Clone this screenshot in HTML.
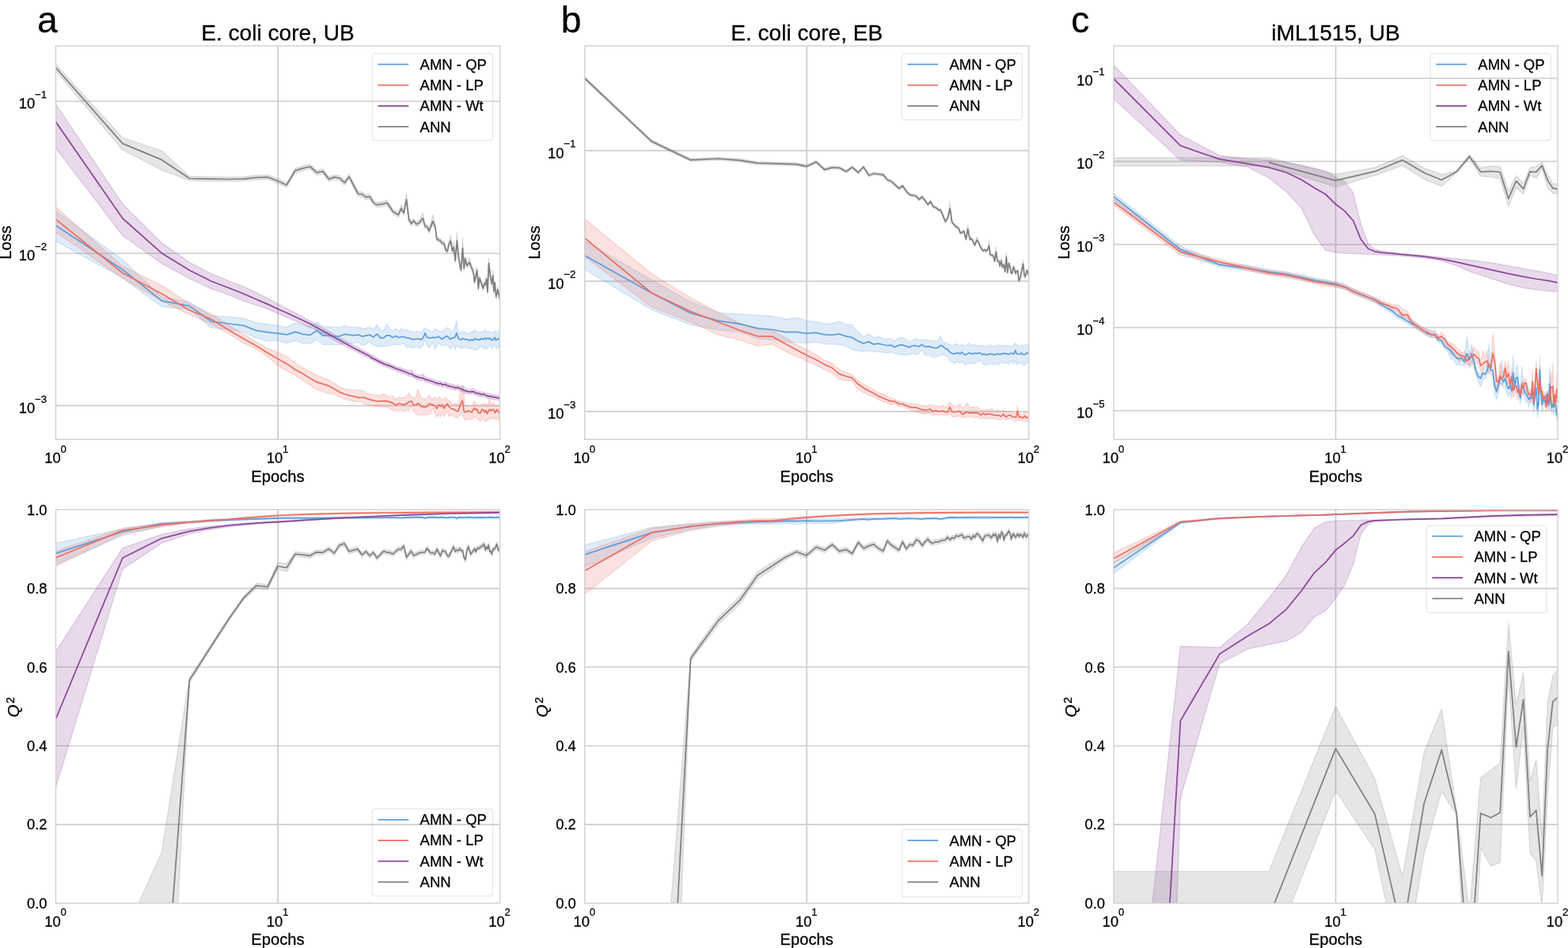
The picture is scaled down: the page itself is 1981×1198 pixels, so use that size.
<!DOCTYPE html><html><head><meta charset="utf-8"><title>Figure</title><style>html,body{margin:0;padding:0;background:#fff}svg{display:block}text{font-family:"Liberation Sans",Arial,Helvetica,sans-serif;fill:#000;stroke:#000;stroke-width:0.26px}</style></head><body>
<svg width="1981" height="1198" viewBox="0 0 1981 1198">
<rect width="1981" height="1198" fill="#ffffff"/>
<clipPath id="c00"><rect x="70.5" y="58.0" width="561.0" height="497.29999999999995"/></clipPath>
<g stroke="#cccccc" stroke-width="1.67" fill="none">
<line x1="351.00" y1="58.0" x2="351.00" y2="555.3"/>
<line x1="70.5" y1="128.00" x2="631.5" y2="128.00"/>
<line x1="70.5" y1="320.28" x2="631.5" y2="320.28"/>
<line x1="70.5" y1="512.55" x2="631.5" y2="512.55"/>
</g>
<g clip-path="url(#c00)">
<path d="M70.5,266.6 L154.9,328.1 L204.3,375.4 L239.4,381.6 L266.6,399.1 L288.8,400.2 L307.6,402.2 L323.8,407.8 L338.2,409.7 L351.0,411.4 L362.6,413.5 L373.2,407.8 L383.0,410.4 L392.0,412.8 L400.4,406.9 L408.3,412.8 L415.6,412.8 L422.6,413.6 L429.2,413.9 L435.4,411.4 L441.4,413.2 L447.0,413.2 L452.5,413.2 L457.6,415.0 L460.0,415.0 L467.3,413.5 L471.8,416.4 L476.4,410.2 L480.9,417.7 L484.6,417.7 L488.7,409.1 L492.8,415.9 L496.4,417.7 L500.0,415.0 L503.7,419.1 L506.9,415.0 L510.0,417.3 L513.7,416.8 L521.9,419.8 L528.2,418.7 L532.8,419.6 L536.9,414.1 L540.1,416.4 L546.4,419.6 L549.6,415.5 L556.5,419.6 L564.6,414.1 L567.8,415.5 L570.1,419.1 L572.8,419.1 L576.9,405.5 L579.2,419.6 L582.4,420.5 L584.7,418.7 L587.4,419.6 L592.8,421.4 L596.5,418.2 L597.9,420.5 L599.7,415.9 L601.9,419.6 L605.6,420.0 L610.1,419.6 L612.9,416.4 L614.7,419.6 L618.8,419.1 L621.5,421.4 L623.3,420.9 L625.2,417.7 L626.5,421.4 L629.2,418.2 L630.9,419.1 L630.9,438.2 L627.0,440.9 L625.2,434.1 L622.0,440.0 L618.8,435.9 L614.2,441.9 L612.0,438.2 L610.1,440.5 L607.0,436.9 L603.8,441.9 L596.5,441.4 L587.4,438.2 L586.0,439.6 L584.7,438.2 L582.4,440.9 L579.2,438.2 L576.9,436.4 L575.1,441.9 L571.9,434.6 L569.2,441.4 L564.6,435.5 L558.7,437.3 L557.4,436.9 L554.2,433.7 L549.6,441.4 L546.4,432.8 L542.3,439.6 L539.2,435.9 L536.9,428.2 L534.6,436.4 L531.0,440.5 L525.5,437.8 L521.9,440.0 L516.4,437.8 L513.7,439.6 L510.0,433.2 L506.9,435.5 L496.4,435.5 L489.1,437.3 L480.9,438.2 L471.8,436.4 L467.3,431.8 L460.0,435.9 L457.6,436.5 L452.5,432.6 L447.0,433.4 L441.4,433.7 L435.4,433.7 L429.2,435.5 L422.6,435.8 L415.6,435.5 L408.3,435.5 L400.4,429.5 L392.0,434.0 L383.0,434.0 L373.2,430.2 L362.6,433.7 L351.0,430.2 L338.2,430.9 L323.8,427.3 L307.6,419.6 L288.8,416.5 L266.6,413.9 L239.4,391.0 L204.3,387.4 L154.9,351.4 L70.5,304.7Z" fill="#5d9fdc" fill-opacity="0.2" stroke="#5d9fdc" stroke-opacity="0.2" stroke-width="1.5" stroke-linejoin="round"/>
<path d="M70.5,261.6 L154.9,336.5 L204.3,360.6 L239.4,383.9 L266.6,396.5 L288.8,411.0 L307.6,422.0 L323.8,432.0 L338.2,440.5 L351.0,445.5 L362.6,450.5 L373.2,459.2 L383.0,465.0 L392.0,470.0 L400.4,474.0 L408.3,477.5 L415.6,480.5 L422.6,484.6 L429.2,489.0 L435.4,491.7 L447.0,493.0 L457.6,493.5 L460.0,494.6 L467.3,498.2 L473.6,498.7 L480.0,500.0 L484.6,497.3 L491.8,501.4 L495.9,500.0 L500.0,504.6 L503.7,502.3 L507.3,502.8 L511.9,501.8 L514.6,499.6 L516.6,496.4 L520.5,501.8 L524.6,503.2 L526.9,497.3 L528.4,492.3 L531.4,502.3 L536.9,505.0 L539.6,503.2 L542.3,499.1 L546.4,505.5 L549.2,501.4 L551.4,505.5 L554.2,501.4 L556.5,503.2 L560.1,505.9 L562.8,501.8 L565.6,505.5 L568.3,506.4 L571.5,510.0 L574.6,510.0 L579.2,510.9 L581.9,495.5 L584.2,487.3 L586.0,495.5 L587.4,512.8 L591.0,512.3 L596.5,513.7 L599.2,506.4 L601.0,511.9 L602.9,510.5 L605.6,514.6 L609.2,510.0 L611.0,511.9 L612.9,509.1 L615.6,514.6 L618.3,503.2 L620.1,512.8 L621.5,509.1 L622.9,511.9 L623.8,508.2 L625.6,513.7 L629.2,511.9 L630.9,512.8 L630.9,531.9 L628.3,527.3 L627.0,531.0 L625.6,527.3 L623.8,530.1 L621.1,526.9 L618.8,531.0 L617.4,528.2 L614.7,532.8 L611.0,531.0 L609.2,525.5 L607.4,532.8 L604.2,530.1 L600.1,526.4 L596.5,530.1 L591.9,529.1 L587.8,531.0 L586.0,528.2 L583.7,520.0 L581.0,524.6 L577.4,528.2 L573.7,527.3 L570.1,523.7 L567.4,526.9 L565.4,519.6 L563.7,521.9 L561.0,526.4 L558.7,519.1 L556.5,527.3 L554.2,523.7 L551.4,527.3 L546.9,515.5 L544.6,522.3 L540.1,524.6 L535.5,524.1 L528.2,524.6 L522.8,520.0 L519.1,513.7 L516.9,519.6 L513.7,519.1 L510.0,520.8 L507.3,518.2 L503.7,519.6 L496.4,518.7 L489.1,514.6 L478.2,514.1 L469.1,512.8 L460.0,510.5 L457.6,508.0 L447.0,507.0 L435.4,504.4 L429.2,502.0 L422.6,498.7 L415.6,497.0 L408.3,495.0 L400.4,492.4 L392.0,487.0 L383.0,481.0 L373.2,474.4 L362.6,469.0 L351.0,462.0 L338.2,451.0 L323.8,441.0 L307.6,433.5 L288.8,421.7 L266.6,409.5 L239.4,397.5 L204.3,380.4 L154.9,351.4 L70.5,293.4Z" fill="#ec7063" fill-opacity="0.2" stroke="#ec7063" stroke-opacity="0.2" stroke-width="1.5" stroke-linejoin="round"/>
<path d="M70.5,131.5 L154.9,257.8 L204.3,306.9 L239.4,331.6 L266.6,345.7 L288.8,354.9 L307.6,362.0 L323.8,369.8 L338.2,376.8 L351.0,383.9 L373.2,395.5 L400.4,410.3 L435.4,430.2 L467.4,447.3 L478.2,453.4 L485.5,457.1 L491.8,459.1 L500.9,463.0 L507.3,465.2 L513.7,467.5 L517.3,469.5 L519.6,467.3 L522.8,471.6 L527.3,473.4 L531.0,474.5 L534.2,472.5 L537.3,476.6 L541.9,477.7 L546.4,479.3 L550.1,480.7 L554.6,481.8 L556.9,481.6 L559.2,483.4 L562.8,482.7 L564.6,484.2 L569.2,485.3 L572.8,486.0 L575.1,487.3 L578.3,486.6 L581.9,488.4 L585.1,486.9 L588.3,491.2 L592.8,492.1 L598.3,490.9 L601.9,493.9 L605.6,494.4 L608.8,495.7 L611.0,495.1 L614.7,497.1 L619.2,497.8 L623.8,498.9 L627.4,499.4 L630.9,500.3 L630.9,506.3 L627.4,505.4 L623.8,504.9 L619.2,503.8 L614.7,503.1 L611.0,501.1 L608.8,501.7 L605.6,500.4 L601.9,499.9 L598.3,497.9 L592.8,498.1 L588.3,497.2 L585.1,495.4 L581.9,494.4 L578.3,492.6 L575.1,493.3 L572.8,492.0 L569.2,491.3 L564.6,490.2 L562.8,488.7 L559.2,489.4 L556.9,487.6 L554.6,487.8 L550.1,486.7 L546.4,485.3 L541.9,483.7 L537.3,482.6 L534.2,480.5 L531.0,480.5 L527.3,479.4 L522.8,477.6 L519.6,475.3 L517.3,475.5 L513.7,473.5 L507.3,471.2 L500.9,469.0 L491.8,465.1 L485.5,463.1 L478.2,459.4 L467.4,453.4 L435.4,436.8 L400.4,417.5 L373.2,405.5 L351.0,396.2 L338.2,390.5 L323.8,385.6 L307.6,380.4 L288.8,372.6 L266.6,364.8 L239.4,352.1 L204.3,333.0 L154.9,297.7 L70.5,187.3Z" fill="#8b4799" fill-opacity="0.2" stroke="#8b4799" stroke-opacity="0.2" stroke-width="1.5" stroke-linejoin="round"/>
<path d="M70.5,81.3 L154.9,173.9 L204.3,190.4 L239.4,222.7 L266.6,223.5 L288.8,223.8 L307.6,223.5 L323.8,221.5 L338.2,221.0 L350.9,225.7 L362.1,230.7 L372.9,212.7 L382.8,209.7 L391.7,207.5 L400.2,215.2 L408.1,213.6 L415.5,223.4 L422.3,220.9 L428.7,221.8 L435.3,227.9 L441.0,220.2 L452.4,242.0 L457.4,242.5 L462.4,246.1 L467.1,245.4 L471.9,253.1 L476.0,255.9 L482.9,254.8 L488.8,253.4 L492.0,257.5 L496.5,264.6 L503.3,268.4 L506.9,258.4 L510.1,266.1 L513.5,243.5 L516.6,274.5 L519.6,279.4 L522.5,276.0 L526.1,280.2 L529.1,279.2 L534.2,269.1 L536.9,282.8 L539.7,283.6 L542.0,288.9 L546.9,271.2 L549.8,283.9 L551.8,299.0 L556.3,301.3 L558.5,303.8 L561.0,304.9 L563.0,312.4 L565.2,314.4 L567.2,305.5 L569.4,297.8 L571.4,314.1 L573.2,305.4 L575.2,326.4 L577.3,293.5 L579.2,320.3 L580.9,331.2 L582.5,338.5 L584.5,300.5 L586.2,336.2 L587.8,323.7 L589.9,332.7 L593.3,325.6 L595.6,334.8 L598.0,340.5 L599.5,353.4 L602.7,337.5 L604.4,361.4 L605.8,348.3 L607.6,353.2 L610.3,361.4 L611.7,355.6 L613.2,356.9 L614.6,349.7 L616.0,365.9 L617.5,325.7 L619.3,344.6 L621.3,355.6 L622.8,341.4 L624.0,365.0 L625.2,354.4 L626.7,372.0 L628.9,362.6 L630.8,372.0 L631.5,374.4 L631.5,380.4 L630.8,378.0 L628.9,368.6 L626.7,378.0 L625.2,360.4 L624.0,371.0 L622.8,351.4 L621.3,361.6 L619.3,350.6 L617.5,335.7 L616.0,371.9 L614.6,355.7 L613.2,362.9 L611.7,361.6 L610.3,367.4 L607.6,359.2 L605.8,354.3 L604.4,367.4 L602.7,344.5 L599.5,359.4 L598.0,346.5 L595.6,340.8 L593.3,334.6 L589.9,338.7 L587.8,329.7 L586.2,342.2 L584.5,316.5 L582.5,344.5 L580.9,337.2 L579.2,326.3 L577.3,307.0 L575.2,332.4 L573.2,315.4 L571.4,320.1 L569.4,307.3 L567.2,311.5 L565.2,320.4 L563.0,318.4 L561.0,310.9 L558.5,309.8 L556.3,307.3 L551.8,305.0 L549.8,289.9 L546.9,282.7 L542.0,294.9 L539.7,289.6 L536.9,288.8 L534.2,278.6 L529.1,285.2 L526.1,286.2 L522.5,282.0 L519.6,285.4 L516.6,280.5 L513.5,255.0 L510.1,272.1 L506.9,266.4 L503.3,274.4 L496.5,270.6 L492.0,263.5 L488.8,259.4 L482.9,260.8 L476.0,261.9 L471.9,259.1 L467.1,251.4 L462.4,252.1 L457.4,248.5 L452.4,248.0 L441.0,226.2 L435.3,233.9 L428.7,227.8 L422.3,226.9 L415.5,229.4 L408.1,219.6 L400.2,221.2 L391.7,213.5 L382.8,215.7 L372.9,218.7 L362.1,236.7 L350.9,231.7 L338.2,226.5 L323.8,227.0 L307.6,228.8 L288.8,229.0 L266.6,228.8 L239.4,228.0 L204.3,214.9 L154.9,189.4 L70.5,89.8Z" fill="#808080" fill-opacity="0.2" stroke="#808080" stroke-opacity="0.2" stroke-width="1.5" stroke-linejoin="round"/>
<path d="M70.5,285.0 L154.9,340.8 L204.3,380.1 L239.4,386.7 L266.6,406.1 L288.8,409.0 L307.6,411.4 L323.8,417.7 L338.2,419.9 L351.0,421.3 L362.6,422.8 L373.2,419.3 L383.0,422.4 L392.0,423.4 L400.4,417.7 L408.3,424.2 L415.6,424.1 L422.6,424.9 L429.2,424.8 L435.4,422.4 L441.4,423.1 L447.0,423.8 L452.5,422.8 L457.6,425.2 L460.0,424.6 L467.3,423.2 L471.8,425.9 L476.4,422.1 L480.9,427.1 L484.6,427.1 L488.7,423.8 L492.3,423.8 L496.4,426.6 L500.0,424.6 L503.7,426.8 L507.3,425.5 L510.0,425.5 L513.7,426.8 L516.4,427.1 L521.9,429.1 L527.3,428.0 L531.9,429.1 L534.6,427.3 L536.9,420.9 L539.2,425.9 L541.9,427.3 L547.4,426.4 L550.1,426.8 L554.2,425.0 L556.5,427.3 L558.7,428.4 L564.6,424.6 L569.2,428.9 L571.5,426.8 L574.6,426.4 L576.9,420.9 L579.2,427.8 L582.4,429.6 L584.7,427.8 L587.4,428.7 L591.0,429.3 L593.3,430.5 L595.1,429.1 L597.9,430.2 L599.7,427.8 L601.9,429.3 L604.2,428.9 L606.0,429.6 L607.9,427.8 L610.1,428.9 L612.9,427.1 L614.2,428.7 L616.1,427.3 L617.4,428.4 L618.8,427.1 L621.5,430.2 L623.3,428.9 L625.2,426.4 L626.5,430.2 L628.8,428.2 L630.9,428.7" fill="none" stroke="#5d9fdc" stroke-width="1.75" stroke-linejoin="round" stroke-linecap="butt"/>
<path d="M70.5,277.2 L154.9,345.0 L204.3,371.2 L239.4,392.0 L266.6,403.3 L288.8,417.0 L307.6,428.1 L323.8,437.0 L338.2,446.0 L351.0,453.5 L362.6,459.9 L373.2,467.2 L383.0,472.6 L392.0,478.2 L400.4,482.9 L408.3,485.3 L415.6,487.8 L422.6,491.7 L429.2,495.6 L435.4,498.0 L441.4,499.9 L447.0,500.8 L452.5,502.3 L457.6,502.3 L460.0,502.3 L465.5,504.4 L470.9,505.9 L476.4,507.1 L481.8,506.9 L488.2,506.7 L492.8,508.2 L496.4,509.3 L500.0,512.0 L503.7,510.0 L507.3,510.8 L511.0,511.4 L514.6,509.6 L517.3,507.5 L519.6,506.9 L522.8,512.0 L525.5,511.7 L528.4,509.6 L531.9,513.5 L536.9,514.6 L539.6,513.5 L542.3,510.0 L546.4,511.4 L549.6,512.8 L551.9,516.4 L554.2,511.4 L556.5,513.7 L558.7,511.4 L561.0,516.0 L563.3,511.9 L565.4,510.5 L567.8,514.6 L570.1,516.4 L573.3,517.1 L576.5,519.1 L578.7,519.9 L581.5,511.9 L584.2,506.2 L586.0,519.1 L587.8,521.0 L591.9,519.1 L596.0,521.0 L599.2,515.5 L601.0,518.2 L602.4,516.9 L604.7,521.9 L607.0,521.9 L608.8,517.3 L610.6,517.8 L612.4,521.0 L613.8,518.7 L615.6,522.8 L617.9,517.8 L619.2,517.3 L620.6,519.6 L622.4,517.8 L623.8,517.3 L625.6,521.9 L627.9,517.3 L629.2,519.6 L630.9,521.9" fill="none" stroke="#ec7063" stroke-width="1.75" stroke-linejoin="round" stroke-linecap="butt"/>
<path d="M70.5,154.1 L154.9,276.0 L204.3,319.9 L239.4,341.5 L266.6,355.2 L288.8,363.8 L307.6,371.2 L323.8,378.3 L338.2,384.4 L351.0,390.5 L362.6,395.5 L373.2,400.5 L383.0,405.0 L392.0,409.3 L400.4,413.9 L408.3,418.6 L415.6,422.4 L422.6,426.2 L429.2,429.8 L435.4,433.4 L447.0,439.8 L457.6,445.3 L467.4,450.2 L469.1,451.9 L478.2,456.4 L485.5,460.1 L491.8,462.1 L500.9,466.0 L507.3,468.2 L513.7,470.5 L517.3,472.5 L519.6,472.3 L522.8,474.6 L527.3,476.4 L531.0,477.5 L534.2,477.5 L537.3,479.6 L541.9,480.7 L546.4,482.3 L550.1,483.7 L554.6,484.8 L556.9,484.6 L559.2,486.4 L562.8,485.7 L564.6,487.2 L569.2,488.3 L572.8,489.0 L575.1,490.3 L578.3,489.6 L581.9,491.4 L585.1,492.4 L588.3,494.2 L592.8,495.1 L598.3,494.9 L601.9,496.9 L605.6,497.4 L608.8,498.7 L611.0,498.1 L614.7,500.1 L619.2,500.8 L623.8,501.9 L627.4,502.4 L630.9,503.3" fill="none" stroke="#8b4799" stroke-width="1.75" stroke-linejoin="round" stroke-linecap="butt"/>
<path d="M70.5,85.6 L154.9,181.4 L204.3,201.9 L239.4,225.5 L266.6,226.2 L288.8,226.5 L307.6,226.2 L323.8,224.4 L338.2,223.8 L350.9,228.7 L362.1,233.7 L372.9,215.7 L382.8,212.7 L391.7,210.5 L400.2,218.2 L408.1,216.6 L415.5,226.4 L422.3,223.9 L428.7,224.8 L435.3,230.9 L441.0,223.2 L452.4,245.0 L457.4,245.5 L462.4,249.1 L467.1,248.4 L471.9,256.1 L476.0,258.9 L482.9,257.8 L488.8,256.4 L492.0,260.5 L496.5,267.6 L503.3,271.4 L506.9,263.4 L510.1,269.1 L513.5,252.0 L516.6,277.5 L519.6,282.4 L522.5,279.0 L526.1,283.2 L529.1,282.2 L534.2,275.6 L536.9,285.8 L539.7,286.6 L542.0,291.9 L546.9,279.7 L549.8,286.9 L551.8,302.0 L556.3,304.3 L558.5,306.8 L561.0,307.9 L563.0,315.4 L565.2,317.4 L567.2,308.5 L569.4,304.3 L571.4,317.1 L573.2,312.4 L575.2,329.4 L577.3,304.0 L579.2,323.3 L580.9,334.2 L582.5,341.5 L584.5,313.5 L586.2,339.2 L587.8,326.7 L589.9,335.7 L593.3,331.6 L595.6,337.8 L598.0,343.5 L599.5,356.4 L602.7,341.5 L604.4,364.4 L605.8,351.3 L607.6,356.2 L610.3,364.4 L611.7,358.6 L613.2,359.9 L614.6,352.7 L616.0,368.9 L617.5,332.7 L619.3,347.6 L621.3,358.6 L622.8,348.4 L624.0,368.0 L625.2,357.4 L626.7,375.0 L628.9,365.6 L630.8,375.0 L631.5,377.4" fill="none" stroke="#808080" stroke-width="1.75" stroke-linejoin="round" stroke-linecap="butt"/>
</g>
<rect x="70.5" y="58.0" width="561.0" height="497.29999999999995" fill="none" stroke="#d0d0d0" stroke-width="1.4"/>
<text x="56.35" y="585.40" font-size="18.4" text-anchor="start" >10</text>
<text x="76.51" y="572.25" font-size="13.2" text-anchor="start" >0</text>
<text x="336.85" y="585.40" font-size="18.4" text-anchor="start" >10</text>
<text x="357.01" y="572.25" font-size="13.2" text-anchor="start" >1</text>
<text x="617.35" y="585.40" font-size="18.4" text-anchor="start" >10</text>
<text x="637.51" y="572.25" font-size="13.2" text-anchor="start" >2</text>
<text x="351.00" y="608.50" font-size="20.2" text-anchor="middle" >Epochs</text>
<text x="23.79" y="137.20" font-size="18.4" text-anchor="start" >10</text>
<text x="43.95" y="124.05" font-size="13.2" text-anchor="start" >−1</text>
<text x="23.79" y="329.48" font-size="18.4" text-anchor="start" >10</text>
<text x="43.95" y="316.33" font-size="13.2" text-anchor="start" >−2</text>
<text x="23.79" y="521.75" font-size="18.4" text-anchor="start" >10</text>
<text x="43.95" y="508.60" font-size="13.2" text-anchor="start" >−3</text>
<text transform="translate(14.00,306.35) rotate(-90)" font-size="20.2" text-anchor="middle">Loss</text>
<text x="351.00" y="51.40" font-size="28.1" text-anchor="middle" >E. coli core, UB</text>
<rect x="470.5" y="67.5" width="152" height="110" rx="3.3" ry="3.3" fill="none" stroke="#cccccc" stroke-opacity="0.45" stroke-width="1.3"/>
<line x1="477.50" y1="81.40" x2="516.30" y2="81.40" stroke="#5d9fdc" stroke-width="1.8"/>
<text x="530.60" y="87.75" font-size="18.5" text-anchor="start" >AMN - QP</text>
<line x1="477.50" y1="107.65" x2="516.30" y2="107.65" stroke="#ec7063" stroke-width="1.8"/>
<text x="530.60" y="114.00" font-size="18.5" text-anchor="start" >AMN - LP</text>
<line x1="477.50" y1="133.90" x2="516.30" y2="133.90" stroke="#8b4799" stroke-width="1.8"/>
<text x="530.60" y="140.25" font-size="18.5" text-anchor="start" >AMN - Wt</text>
<line x1="477.50" y1="160.15" x2="516.30" y2="160.15" stroke="#808080" stroke-width="1.8"/>
<text x="530.60" y="166.50" font-size="18.5" text-anchor="start" >ANN</text>
<clipPath id="c10"><rect x="738.75" y="58.0" width="561.0" height="497.29999999999995"/></clipPath>
<g stroke="#cccccc" stroke-width="1.67" fill="none">
<line x1="1019.25" y1="58.0" x2="1019.25" y2="555.3"/>
<line x1="738.75" y1="190.40" x2="1299.75" y2="190.40"/>
<line x1="738.75" y1="355.30" x2="1299.75" y2="355.30"/>
<line x1="738.75" y1="520.10" x2="1299.75" y2="520.10"/>
</g>
<g clip-path="url(#c10)">
<path d="M738.8,305.2 L823.2,353.3 L872.6,381.6 L907.6,394.9 L934.8,397.0 L957.0,398.4 L975.8,399.4 L992.1,403.3 L1006.4,401.5 L1019.2,405.4 L1030.9,406.4 L1041.5,408.7 L1051.2,409.0 L1060.2,405.9 L1068.6,410.1 L1076.5,410.4 L1083.9,419.6 L1090.9,425.9 L1097.4,421.7 L1103.7,426.6 L1109.6,425.5 L1115.3,427.8 L1120.7,428.3 L1125.9,428.0 L1130.0,430.9 L1135.5,426.8 L1140.0,426.2 L1144.6,428.7 L1148.8,431.4 L1152.7,430.2 L1156.8,427.0 L1160.9,430.0 L1168.7,429.3 L1177.3,430.5 L1185.1,430.2 L1188.2,424.6 L1191.0,431.8 L1196.9,433.7 L1202.8,436.8 L1207.3,434.4 L1212.3,436.8 L1215.3,435.5 L1220.1,437.1 L1224.4,433.5 L1226.9,436.8 L1231.9,435.3 L1236.0,437.3 L1239.2,435.9 L1245.6,437.8 L1251.0,435.9 L1256.5,438.0 L1261.0,435.8 L1264.7,437.1 L1271.0,436.4 L1275.6,437.1 L1280.1,437.1 L1282.9,433.5 L1284.7,436.8 L1286.5,436.4 L1288.8,437.8 L1291.1,435.5 L1292.9,437.3 L1297.4,434.6 L1299.7,434.4 L1299.7,459.6 L1297.9,457.3 L1295.2,461.0 L1292.9,461.7 L1290.6,458.2 L1288.8,460.0 L1286.1,457.8 L1284.2,461.0 L1282.4,455.5 L1280.6,459.6 L1277.4,456.4 L1274.7,460.0 L1271.0,459.1 L1268.3,459.1 L1266.5,457.3 L1261.5,461.1 L1259.7,458.7 L1256.5,461.0 L1251.0,459.6 L1245.6,461.4 L1241.5,459.9 L1239.6,456.6 L1233.7,457.3 L1231.0,460.0 L1227.8,458.7 L1225.5,459.9 L1223.7,457.8 L1220.1,461.0 L1217.8,461.0 L1215.3,456.4 L1212.8,459.6 L1210.1,456.4 L1205.5,460.0 L1200.1,456.0 L1196.9,450.5 L1190.1,448.2 L1183.7,450.9 L1178.2,451.4 L1173.7,448.2 L1168.7,449.1 L1164.4,442.8 L1160.9,446.4 L1157.3,448.2 L1152.7,446.4 L1148.8,448.2 L1139.1,448.2 L1130.0,446.9 L1125.9,444.7 L1120.7,446.0 L1115.3,445.3 L1109.6,444.6 L1103.7,444.3 L1097.4,443.2 L1090.9,444.3 L1083.9,443.3 L1076.5,441.5 L1068.6,437.2 L1060.2,435.4 L1051.2,435.1 L1041.5,434.4 L1030.9,432.3 L1019.2,433.4 L1006.4,433.0 L992.1,432.3 L975.8,429.5 L957.0,428.1 L934.8,419.6 L907.6,417.0 L872.6,410.5 L823.2,391.4 L738.8,340.6Z" fill="#5d9fdc" fill-opacity="0.2" stroke="#5d9fdc" stroke-opacity="0.2" stroke-width="1.5" stroke-linejoin="round"/>
<path d="M738.8,276.7 L823.2,345.8 L872.6,376.2 L907.6,395.0 L934.8,408.4 L957.0,416.2 L975.8,417.5 L992.1,426.6 L1006.4,435.5 L1019.2,441.9 L1030.9,448.0 L1041.5,454.9 L1051.2,459.0 L1060.2,466.9 L1068.6,470.5 L1076.5,473.3 L1083.9,480.4 L1090.9,485.5 L1097.4,489.2 L1103.7,492.4 L1109.6,496.0 L1115.3,498.2 L1120.7,500.8 L1125.9,503.0 L1130.0,504.1 L1135.5,506.9 L1140.0,507.8 L1145.5,509.6 L1157.3,510.8 L1166.4,512.8 L1171.9,512.8 L1175.0,510.9 L1178.7,513.2 L1181.9,512.6 L1187.3,514.1 L1191.0,512.3 L1196.4,514.6 L1199.9,508.2 L1202.8,510.9 L1205.1,514.1 L1207.3,512.8 L1210.1,513.5 L1212.6,510.2 L1215.5,515.5 L1217.8,515.0 L1221.0,510.0 L1222.8,510.5 L1225.1,514.6 L1230.1,514.3 L1235.6,515.0 L1238.7,517.8 L1242.8,518.2 L1245.1,519.1 L1247.4,516.9 L1249.7,518.0 L1252.4,516.4 L1257.4,519.6 L1261.0,517.3 L1262.8,519.9 L1267.9,518.7 L1271.0,520.5 L1276.5,519.9 L1279.2,521.7 L1283.8,521.9 L1285.6,512.8 L1287.4,523.2 L1290.1,523.7 L1294.7,521.0 L1296.5,522.3 L1299.7,521.9 L1299.7,531.9 L1296.5,532.8 L1292.4,532.3 L1290.1,530.5 L1287.4,531.9 L1285.6,528.2 L1283.8,532.8 L1279.2,531.1 L1273.8,529.0 L1271.0,531.1 L1267.7,528.2 L1264.7,530.5 L1261.5,530.1 L1252.8,528.7 L1245.1,529.1 L1242.4,527.3 L1239.6,529.6 L1235.6,526.9 L1231.0,527.8 L1225.1,526.4 L1221.0,527.1 L1215.5,528.2 L1212.8,525.5 L1210.1,526.6 L1202.8,526.9 L1199.9,522.3 L1196.9,525.5 L1191.0,524.1 L1186.4,525.1 L1181.9,523.7 L1178.7,525.1 L1175.0,521.9 L1168.2,523.2 L1162.8,522.3 L1157.3,519.6 L1151.8,518.7 L1145.5,516.0 L1140.0,513.7 L1135.5,513.7 L1130.0,510.5 L1125.9,511.5 L1120.7,509.5 L1115.3,507.0 L1109.6,505.0 L1103.7,501.6 L1097.4,499.0 L1090.9,496.0 L1083.9,491.7 L1076.5,481.1 L1068.6,480.8 L1060.2,479.6 L1051.2,471.5 L1041.5,466.9 L1030.9,461.5 L1019.2,456.3 L1006.4,450.5 L992.1,444.3 L975.8,435.1 L957.0,437.2 L934.8,429.6 L907.6,423.3 L872.6,407.0 L823.2,387.9 L738.8,324.3Z" fill="#ec7063" fill-opacity="0.2" stroke="#ec7063" stroke-opacity="0.2" stroke-width="1.5" stroke-linejoin="round"/>
<path d="M738.8,97.2 L823.2,176.8 L872.6,200.4 L907.6,198.7 L934.8,200.8 L957.0,204.3 L975.8,204.9 L992.1,205.3 L1006.4,205.8 L1018.9,208.4 L1031.2,202.8 L1041.8,212.6 L1051.2,210.0 L1060.3,210.2 L1069.0,215.0 L1076.7,209.6 L1084.3,216.2 L1091.0,209.1 L1097.8,219.9 L1104.0,217.5 L1109.5,218.2 L1115.8,219.1 L1121.1,225.5 L1126.3,227.5 L1135.8,236.4 L1140.4,233.0 L1144.9,239.9 L1149.3,244.4 L1153.6,245.3 L1157.2,245.7 L1161.3,250.3 L1165.0,246.9 L1170.0,253.4 L1172.3,256.8 L1175.7,252.8 L1178.7,259.1 L1182.1,260.4 L1185.6,263.3 L1188.6,264.0 L1194.3,278.1 L1197.3,273.9 L1200.1,254.5 L1202.8,279.2 L1208.0,284.9 L1211.0,286.4 L1213.3,292.7 L1217.8,290.6 L1220.5,300.5 L1222.8,284.4 L1225.3,300.5 L1227.6,299.9 L1231.5,307.9 L1234.2,298.9 L1236.1,303.9 L1238.3,309.6 L1240.0,312.3 L1241.8,315.2 L1243.9,313.9 L1245.9,315.4 L1247.8,313.5 L1249.6,302.8 L1251.0,320.3 L1253.5,320.5 L1255.1,322.1 L1256.6,328.2 L1258.4,312.2 L1260.0,327.8 L1261.9,328.0 L1263.3,334.4 L1265.0,325.6 L1266.6,336.0 L1268.2,332.7 L1269.9,341.3 L1271.4,318.7 L1272.9,342.6 L1274.6,330.7 L1276.2,335.2 L1277.2,343.0 L1278.9,343.4 L1280.3,335.6 L1281.7,338.5 L1283.1,343.8 L1284.2,340.9 L1286.0,340.7 L1286.8,350.3 L1287.4,353.2 L1288.7,350.3 L1292.6,328.5 L1294.0,345.0 L1295.2,348.1 L1297.5,339.7 L1298.7,343.0 L1299.6,346.6 L1299.6,350.2 L1298.7,346.6 L1297.5,343.3 L1295.2,351.7 L1294.0,348.6 L1292.6,335.3 L1288.7,353.9 L1287.4,356.8 L1286.8,353.9 L1286.0,344.3 L1284.2,344.5 L1283.1,347.4 L1281.7,342.1 L1280.3,339.2 L1278.9,347.0 L1277.2,346.6 L1276.2,338.8 L1274.6,334.3 L1272.9,346.2 L1271.4,326.5 L1269.9,344.9 L1268.2,336.3 L1266.6,339.6 L1265.0,331.4 L1263.3,338.0 L1261.9,331.6 L1260.0,331.4 L1258.4,320.0 L1256.6,331.8 L1255.1,325.7 L1253.5,324.1 L1251.0,323.9 L1249.6,312.6 L1247.8,317.1 L1245.9,319.0 L1243.9,317.5 L1241.8,318.8 L1240.0,315.9 L1238.3,313.2 L1236.1,307.5 L1234.2,305.2 L1231.5,311.5 L1227.6,303.5 L1225.3,304.1 L1222.8,291.2 L1220.5,304.1 L1217.8,294.2 L1213.3,296.3 L1211.0,290.0 L1208.0,288.5 L1202.8,282.8 L1200.1,265.3 L1197.3,277.5 L1194.3,281.7 L1188.6,267.6 L1185.6,266.9 L1182.1,264.0 L1178.7,262.7 L1175.7,256.4 L1172.3,260.4 L1170.0,257.0 L1165.0,250.5 L1161.3,253.9 L1157.2,249.3 L1153.6,248.9 L1149.3,248.0 L1144.9,243.5 L1140.4,236.6 L1135.8,240.0 L1126.3,231.1 L1121.1,229.1 L1115.8,222.7 L1109.5,221.8 L1104.0,221.1 L1097.8,223.5 L1091.0,212.7 L1084.3,219.8 L1076.7,213.2 L1069.0,218.6 L1060.3,213.8 L1051.2,213.6 L1041.8,216.2 L1031.2,206.4 L1018.9,212.0 L1006.4,209.4 L992.1,208.9 L975.8,208.5 L957.0,207.9 L934.8,204.4 L907.6,202.3 L872.6,204.0 L823.2,180.4 L738.8,100.8Z" fill="#808080" fill-opacity="0.2" stroke="#808080" stroke-opacity="0.2" stroke-width="1.5" stroke-linejoin="round"/>
<path d="M738.8,322.9 L823.2,370.2 L872.6,395.7 L907.6,405.3 L934.8,409.4 L957.0,414.9 L975.8,416.5 L992.1,419.6 L1006.4,419.6 L1019.2,421.4 L1030.9,420.3 L1041.5,422.8 L1051.2,423.3 L1060.2,422.0 L1068.6,424.9 L1076.5,426.4 L1083.9,430.9 L1090.9,434.0 L1097.4,431.9 L1103.7,435.1 L1109.6,434.1 L1115.3,435.5 L1120.7,436.5 L1125.9,436.1 L1130.0,438.7 L1135.5,436.4 L1140.0,435.9 L1144.6,437.3 L1148.8,438.9 L1152.7,437.0 L1156.8,436.7 L1160.9,438.2 L1164.4,435.3 L1168.7,438.2 L1172.8,437.8 L1177.3,438.9 L1181.9,440.0 L1185.1,439.3 L1188.2,436.4 L1191.0,437.3 L1194.1,440.5 L1196.9,441.4 L1200.1,445.0 L1202.8,446.9 L1207.3,446.9 L1210.1,445.5 L1212.8,447.3 L1215.3,445.0 L1217.8,447.8 L1220.1,448.2 L1224.4,445.7 L1227.4,447.3 L1231.9,446.4 L1234.6,446.6 L1237.8,445.9 L1241.5,448.2 L1243.3,446.9 L1245.6,448.7 L1251.0,447.1 L1256.5,448.4 L1261.0,446.9 L1263.3,448.2 L1266.5,446.6 L1271.0,446.9 L1274.7,447.8 L1277.9,445.9 L1280.6,447.8 L1282.9,442.6 L1284.2,447.1 L1288.3,447.5 L1290.6,445.9 L1292.4,448.2 L1295.2,447.8 L1297.4,445.7 L1299.7,447.3" fill="none" stroke="#5d9fdc" stroke-width="1.75" stroke-linejoin="round" stroke-linecap="butt"/>
<path d="M738.8,301.0 L823.2,370.2 L872.6,393.6 L907.6,407.0 L934.8,417.5 L957.0,424.9 L975.8,425.2 L992.1,434.4 L1006.4,442.2 L1019.2,449.0 L1030.9,454.5 L1041.5,460.6 L1051.2,464.8 L1060.2,472.6 L1068.6,475.4 L1076.5,477.5 L1083.9,485.3 L1090.9,490.2 L1097.4,493.8 L1103.7,497.0 L1109.6,500.6 L1115.3,502.7 L1120.7,505.1 L1125.9,507.2 L1130.0,507.1 L1135.5,510.3 L1140.0,510.5 L1145.5,512.9 L1151.8,514.8 L1157.3,514.9 L1162.8,517.1 L1168.2,518.2 L1171.9,518.0 L1175.0,516.9 L1178.7,520.0 L1181.9,518.7 L1186.4,520.0 L1191.0,519.1 L1194.1,520.5 L1196.9,521.0 L1199.9,514.6 L1202.8,520.0 L1205.1,521.0 L1210.1,520.2 L1212.8,519.6 L1215.5,523.5 L1217.8,522.8 L1221.0,520.5 L1225.1,521.9 L1230.1,521.7 L1235.6,521.9 L1239.6,524.6 L1242.4,522.3 L1245.1,524.3 L1247.4,522.8 L1252.8,523.7 L1257.4,524.9 L1261.5,524.9 L1264.7,526.2 L1267.7,523.2 L1271.0,527.1 L1273.8,524.9 L1277.0,524.9 L1279.2,526.9 L1283.8,527.1 L1285.6,520.0 L1287.4,527.1 L1290.1,526.9 L1292.4,528.2 L1294.7,525.7 L1296.5,527.8 L1299.7,527.1" fill="none" stroke="#ec7063" stroke-width="1.75" stroke-linejoin="round" stroke-linecap="butt"/>
<path d="M738.8,99.0 L823.2,178.6 L872.6,202.2 L907.6,200.5 L934.8,202.6 L957.0,206.1 L975.8,206.7 L992.1,207.1 L1006.4,207.6 L1018.9,210.2 L1031.2,204.6 L1041.8,214.4 L1051.2,211.8 L1060.3,212.0 L1069.0,216.8 L1076.7,211.4 L1084.3,218.0 L1091.0,210.9 L1097.8,221.7 L1104.0,219.3 L1109.5,220.0 L1115.8,220.9 L1121.1,227.3 L1126.3,229.3 L1135.8,238.2 L1140.4,234.8 L1144.9,241.7 L1149.3,246.2 L1153.6,247.1 L1157.2,247.5 L1161.3,252.1 L1165.0,248.7 L1170.0,255.2 L1172.3,258.6 L1175.7,254.6 L1178.7,260.9 L1182.1,262.2 L1185.6,265.1 L1188.6,265.8 L1194.3,279.9 L1197.3,275.7 L1200.1,263.5 L1202.8,281.0 L1208.0,286.7 L1211.0,288.2 L1213.3,294.5 L1217.8,292.4 L1220.5,302.3 L1222.8,289.4 L1225.3,302.3 L1227.6,301.7 L1231.5,309.7 L1234.2,303.4 L1236.1,305.7 L1238.3,311.4 L1240.0,314.1 L1241.8,317.0 L1243.9,315.7 L1245.9,317.2 L1247.8,315.3 L1249.6,310.8 L1251.0,322.1 L1253.5,322.3 L1255.1,323.9 L1256.6,330.0 L1258.4,318.2 L1260.0,329.6 L1261.9,329.8 L1263.3,336.2 L1265.0,329.6 L1266.6,337.8 L1268.2,334.5 L1269.9,343.1 L1271.4,324.7 L1272.9,344.4 L1274.6,332.5 L1276.2,337.0 L1277.2,344.8 L1278.9,345.2 L1280.3,337.4 L1281.7,340.3 L1283.1,345.6 L1284.2,342.7 L1286.0,342.5 L1286.8,352.1 L1287.4,355.0 L1288.7,352.1 L1292.6,333.5 L1294.0,346.8 L1295.2,349.9 L1297.5,341.5 L1298.7,344.8 L1299.6,348.4" fill="none" stroke="#808080" stroke-width="1.75" stroke-linejoin="round" stroke-linecap="butt"/>
</g>
<rect x="738.75" y="58.0" width="561.0" height="497.29999999999995" fill="none" stroke="#d0d0d0" stroke-width="1.4"/>
<text x="724.60" y="585.40" font-size="18.4" text-anchor="start" >10</text>
<text x="744.76" y="572.25" font-size="13.2" text-anchor="start" >0</text>
<text x="1005.10" y="585.40" font-size="18.4" text-anchor="start" >10</text>
<text x="1025.26" y="572.25" font-size="13.2" text-anchor="start" >1</text>
<text x="1285.60" y="585.40" font-size="18.4" text-anchor="start" >10</text>
<text x="1305.76" y="572.25" font-size="13.2" text-anchor="start" >2</text>
<text x="1019.25" y="608.50" font-size="20.2" text-anchor="middle" >Epochs</text>
<text x="692.04" y="199.60" font-size="18.4" text-anchor="start" >10</text>
<text x="712.20" y="186.45" font-size="13.2" text-anchor="start" >−1</text>
<text x="692.04" y="364.50" font-size="18.4" text-anchor="start" >10</text>
<text x="712.20" y="351.35" font-size="13.2" text-anchor="start" >−2</text>
<text x="692.04" y="529.30" font-size="18.4" text-anchor="start" >10</text>
<text x="712.20" y="516.15" font-size="13.2" text-anchor="start" >−3</text>
<text transform="translate(682.25,306.35) rotate(-90)" font-size="20.2" text-anchor="middle">Loss</text>
<text x="1019.25" y="51.40" font-size="28.1" text-anchor="middle" >E. coli core, EB</text>
<rect x="1139.4" y="67.5" width="152" height="84" rx="3.3" ry="3.3" fill="none" stroke="#cccccc" stroke-opacity="0.45" stroke-width="1.3"/>
<line x1="1146.40" y1="81.40" x2="1185.20" y2="81.40" stroke="#5d9fdc" stroke-width="1.8"/>
<text x="1199.50" y="87.75" font-size="18.5" text-anchor="start" >AMN - QP</text>
<line x1="1146.40" y1="107.65" x2="1185.20" y2="107.65" stroke="#ec7063" stroke-width="1.8"/>
<text x="1199.50" y="114.00" font-size="18.5" text-anchor="start" >AMN - LP</text>
<line x1="1146.40" y1="133.90" x2="1185.20" y2="133.90" stroke="#808080" stroke-width="1.8"/>
<text x="1199.50" y="140.25" font-size="18.5" text-anchor="start" >ANN</text>
<clipPath id="c20"><rect x="1407.0" y="58.0" width="561.0" height="497.29999999999995"/></clipPath>
<g stroke="#cccccc" stroke-width="1.67" fill="none">
<line x1="1687.50" y1="58.0" x2="1687.50" y2="555.3"/>
<line x1="1407.0" y1="99.00" x2="1968.0" y2="99.00"/>
<line x1="1407.0" y1="204.00" x2="1968.0" y2="204.00"/>
<line x1="1407.0" y1="309.00" x2="1968.0" y2="309.00"/>
<line x1="1407.0" y1="414.00" x2="1968.0" y2="414.00"/>
<line x1="1407.0" y1="519.00" x2="1968.0" y2="519.00"/>
</g>
<g clip-path="url(#c20)">
<path d="M1407.0,244.2 L1491.4,311.0 L1540.8,331.6 L1575.9,335.8 L1603.1,340.5 L1625.3,343.6 L1644.1,347.6 L1660.3,351.1 L1674.7,353.5 L1687.5,355.9 L1699.1,359.8 L1709.7,365.1 L1719.5,369.2 L1728.5,372.7 L1736.9,376.2 L1744.8,381.2 L1752.1,385.7 L1759.1,390.0 L1765.7,395.5 L1771.9,398.6 L1777.9,402.3 L1783.5,405.6 L1789.0,408.2 L1794.1,411.7 L1799.1,415.2 L1803.9,416.4 L1808.5,417.9 L1812.9,417.4 L1817.2,425.6 L1821.3,427.0 L1825.3,434.1 L1829.2,436.8 L1832.9,436.1 L1836.6,444.5 L1840.1,445.6 L1843.5,447.6 L1846.9,447.5 L1850.1,451.3 L1853.3,424.8 L1856.4,448.2 L1859.4,435.1 L1862.3,452.9 L1865.2,466.2 L1868.0,471.0 L1870.7,473.2 L1873.4,465.5 L1876.0,468.3 L1878.6,464.5 L1881.1,434.7 L1883.6,461.3 L1886.0,461.7 L1888.3,480.8 L1890.7,488.7 L1892.9,482.7 L1895.2,471.1 L1897.4,455.4 L1899.5,476.6 L1901.6,473.2 L1903.7,480.8 L1905.8,486.2 L1907.8,480.3 L1909.8,488.3 L1911.7,449.0 L1913.6,483.9 L1915.5,463.2 L1917.4,461.2 L1919.2,489.5 L1921.0,495.7 L1922.8,462.8 L1924.6,484.9 L1926.3,490.1 L1928.0,493.0 L1929.7,494.5 L1931.3,498.5 L1933.0,495.3 L1934.6,497.6 L1936.2,486.0 L1937.7,506.7 L1939.3,496.1 L1940.8,483.9 L1942.3,512.4 L1943.8,505.7 L1945.3,450.3 L1946.8,493.5 L1948.2,507.2 L1949.6,499.3 L1951.0,502.3 L1952.4,502.3 L1953.8,494.6 L1955.2,500.5 L1956.5,504.8 L1957.8,463.2 L1959.2,494.6 L1960.5,511.3 L1961.8,506.5 L1963.0,508.1 L1964.3,503.9 L1965.5,505.9 L1966.8,519.3 L1968.0,516.0 L1968.0,528.9 L1966.8,531.1 L1965.5,521.7 L1964.3,520.1 L1963.0,523.8 L1961.8,518.3 L1960.5,522.6 L1959.2,509.9 L1957.8,492.3 L1956.5,517.7 L1955.2,511.0 L1953.8,508.3 L1952.4,514.6 L1951.0,512.9 L1949.6,512.8 L1948.2,522.1 L1946.8,507.0 L1945.3,474.5 L1943.8,520.3 L1942.3,527.3 L1940.8,497.0 L1939.3,508.5 L1937.7,521.7 L1936.2,498.6 L1934.6,509.2 L1933.0,508.1 L1931.3,514.4 L1929.7,505.9 L1928.0,509.1 L1926.3,501.2 L1924.6,499.4 L1922.8,492.9 L1921.0,511.8 L1919.2,503.1 L1917.4,483.8 L1915.5,483.2 L1913.6,495.5 L1911.7,478.9 L1909.8,504.5 L1907.8,494.8 L1905.8,501.6 L1903.7,496.3 L1901.6,489.2 L1899.5,490.2 L1897.4,487.7 L1895.2,484.0 L1892.9,498.7 L1890.7,504.7 L1888.3,497.4 L1886.0,478.2 L1883.6,473.4 L1881.1,470.7 L1878.6,475.3 L1876.0,478.1 L1873.4,479.5 L1870.7,488.7 L1868.0,483.3 L1865.2,475.5 L1862.3,464.8 L1859.4,455.4 L1856.4,465.4 L1853.3,454.2 L1850.1,463.0 L1846.9,461.1 L1843.5,460.4 L1840.1,461.5 L1836.6,454.2 L1832.9,453.7 L1829.2,444.2 L1825.3,441.3 L1821.3,434.2 L1817.2,432.8 L1812.9,426.4 L1808.5,426.4 L1803.9,424.9 L1799.1,422.1 L1794.1,418.5 L1789.0,415.0 L1783.5,412.4 L1777.9,408.9 L1771.9,405.2 L1765.7,402.1 L1759.1,396.4 L1752.1,392.1 L1744.8,387.6 L1736.9,382.4 L1728.5,378.9 L1719.5,375.4 L1709.7,371.3 L1699.1,365.8 L1687.5,361.9 L1674.7,359.5 L1660.3,357.1 L1644.1,353.6 L1625.3,349.6 L1603.1,346.5 L1575.9,341.8 L1540.8,337.6 L1491.4,319.4 L1407.0,252.6Z" fill="#5d9fdc" fill-opacity="0.2" stroke="#5d9fdc" stroke-opacity="0.2" stroke-width="1.5" stroke-linejoin="round"/>
<path d="M1407.0,251.2 L1491.4,314.1 L1540.8,328.1 L1575.9,335.8 L1603.1,341.8 L1625.3,344.7 L1644.1,348.6 L1660.3,352.8 L1674.7,354.9 L1687.5,356.8 L1699.1,359.8 L1709.7,365.1 L1719.5,368.9 L1728.5,372.4 L1736.9,375.7 L1744.8,379.8 L1752.1,382.2 L1759.1,385.0 L1765.7,385.4 L1771.9,390.1 L1777.9,392.7 L1783.5,403.2 L1789.0,407.9 L1794.1,411.7 L1799.1,414.8 L1803.9,416.8 L1808.5,419.4 L1812.9,419.8 L1817.2,423.5 L1821.3,420.0 L1825.3,424.2 L1829.2,431.3 L1832.9,433.6 L1836.6,435.1 L1840.1,439.7 L1843.5,441.9 L1846.9,445.9 L1850.1,444.1 L1853.3,450.3 L1856.4,446.4 L1859.4,444.3 L1862.3,438.2 L1865.2,443.3 L1868.0,443.8 L1870.7,457.4 L1873.4,443.0 L1876.0,452.1 L1878.6,442.9 L1881.1,458.8 L1883.6,458.9 L1886.0,421.4 L1888.3,442.6 L1890.7,474.5 L1892.9,478.5 L1895.2,457.9 L1897.4,471.2 L1899.5,469.6 L1901.6,456.2 L1903.7,470.6 L1905.8,455.9 L1907.8,481.9 L1909.8,464.0 L1911.7,489.0 L1913.6,482.9 L1915.5,482.7 L1917.4,490.3 L1919.2,486.4 L1921.0,493.4 L1922.8,482.2 L1924.6,483.6 L1926.3,478.8 L1928.0,478.9 L1929.7,486.5 L1931.3,491.9 L1933.0,493.0 L1934.6,493.9 L1936.2,468.1 L1937.7,501.8 L1939.3,481.8 L1940.8,456.8 L1942.3,474.2 L1943.8,492.3 L1945.3,462.5 L1946.8,488.6 L1948.2,488.8 L1949.6,498.3 L1951.0,495.4 L1952.4,498.7 L1953.8,509.9 L1955.2,493.2 L1956.5,496.0 L1957.8,502.6 L1959.2,469.6 L1960.5,483.7 L1961.8,458.2 L1963.0,505.1 L1964.3,494.6 L1965.5,503.7 L1966.8,472.6 L1968.0,498.1 L1968.0,509.2 L1966.8,499.8 L1965.5,514.1 L1964.3,507.6 L1963.0,517.9 L1961.8,493.3 L1960.5,495.2 L1959.2,498.7 L1957.8,518.9 L1956.5,512.4 L1955.2,506.2 L1953.8,520.4 L1952.4,512.2 L1951.0,509.7 L1949.6,510.5 L1948.2,502.2 L1946.8,500.5 L1945.3,489.7 L1943.8,505.6 L1942.3,488.7 L1940.8,475.2 L1939.3,498.1 L1937.7,513.7 L1936.2,490.4 L1934.6,507.4 L1933.0,509.2 L1931.3,504.9 L1929.7,501.0 L1928.0,495.3 L1926.3,490.0 L1924.6,499.1 L1922.8,495.5 L1921.0,504.1 L1919.2,499.4 L1917.4,505.5 L1915.5,495.4 L1913.6,498.0 L1911.7,501.8 L1909.8,483.5 L1907.8,492.5 L1905.8,480.4 L1903.7,487.3 L1901.6,473.7 L1899.5,485.1 L1897.4,485.5 L1895.2,484.2 L1892.9,489.9 L1890.7,491.7 L1888.3,462.7 L1886.0,454.7 L1883.6,468.9 L1881.1,471.3 L1878.6,462.3 L1876.0,465.4 L1873.4,466.3 L1870.7,469.5 L1868.0,460.1 L1865.2,459.5 L1862.3,452.9 L1859.4,462.0 L1856.4,461.0 L1853.3,461.6 L1850.1,458.2 L1846.9,455.4 L1843.5,457.6 L1840.1,452.9 L1836.6,447.9 L1832.9,448.1 L1829.2,438.7 L1825.3,432.8 L1821.3,428.6 L1817.2,430.7 L1812.9,426.8 L1808.5,426.4 L1803.9,423.8 L1799.1,421.6 L1794.1,418.5 L1789.0,414.7 L1783.5,410.0 L1777.9,401.0 L1771.9,401.4 L1765.7,393.7 L1759.1,391.4 L1752.1,388.6 L1744.8,386.2 L1736.9,381.9 L1728.5,378.6 L1719.5,375.1 L1709.7,371.3 L1699.1,365.8 L1687.5,362.8 L1674.7,360.9 L1660.3,358.8 L1644.1,354.6 L1625.3,350.7 L1603.1,347.8 L1575.9,341.8 L1540.8,334.1 L1491.4,322.5 L1407.0,259.6Z" fill="#ec7063" fill-opacity="0.2" stroke="#ec7063" stroke-opacity="0.2" stroke-width="1.5" stroke-linejoin="round"/>
<path d="M1407.0,82.0 L1491.4,170.4 L1540.8,196.5 L1575.9,200.4 L1603.1,202.2 L1625.3,205.2 L1644.1,208.7 L1660.3,212.5 L1674.7,216.1 L1687.5,223.8 L1699.1,229.5 L1709.7,243.6 L1719.5,283.2 L1728.5,307.8 L1736.9,315.1 L1744.8,317.0 L1771.9,320.4 L1799.1,322.8 L1821.3,325.3 L1840.1,327.0 L1856.4,328.4 L1883.6,332.1 L1905.8,335.9 L1924.6,339.5 L1940.8,342.3 L1955.2,345.1 L1968.0,348.0 L1968.0,368.7 L1955.2,367.7 L1940.8,366.3 L1924.6,363.8 L1905.8,359.3 L1883.6,351.8 L1856.4,343.0 L1840.1,335.9 L1821.3,329.6 L1799.1,326.0 L1771.9,323.4 L1744.8,322.1 L1736.9,321.8 L1728.5,321.4 L1719.5,321.1 L1709.7,320.5 L1699.1,319.9 L1687.5,318.9 L1674.7,316.0 L1660.3,296.5 L1644.1,262.6 L1625.3,242.4 L1603.1,224.8 L1575.9,210.8 L1540.8,205.0 L1491.4,202.2 L1407.0,125.1Z" fill="#8b4799" fill-opacity="0.2" stroke="#8b4799" stroke-opacity="0.2" stroke-width="1.5" stroke-linejoin="round"/>
<path d="M1404.0,199.3 L1603.1,199.3 L1687.5,220.3 L1736.9,211.8 L1771.9,196.7 L1799.1,212.2 L1821.3,220.5 L1840.1,216.0 L1856.4,195.3 L1870.7,212.3 L1883.6,209.6 L1895.2,210.5 L1905.8,241.0 L1915.5,221.9 L1924.6,231.9 L1933.0,211.9 L1940.8,210.0 L1948.2,205.0 L1955.2,220.5 L1961.8,232.3 L1968.0,232.8 L1968.0,245.5 L1961.8,244.2 L1955.2,236.9 L1948.2,212.8 L1940.8,225.0 L1933.0,221.9 L1924.6,245.5 L1915.5,236.9 L1905.8,261.0 L1895.2,225.5 L1883.6,223.7 L1870.7,222.8 L1856.4,200.2 L1840.1,218.2 L1821.3,235.5 L1799.1,226.6 L1771.9,209.0 L1736.9,221.7 L1687.5,236.3 L1603.1,209.8 L1404.0,209.8Z" fill="#808080" fill-opacity="0.2" stroke="#808080" stroke-opacity="0.2" stroke-width="1.5" stroke-linejoin="round"/>
<path d="M1407.0,248.4 L1491.4,315.2 L1540.8,334.6 L1575.9,338.8 L1603.1,343.5 L1625.3,346.6 L1644.1,350.6 L1660.3,354.1 L1674.7,356.5 L1687.5,358.9 L1699.1,362.8 L1709.7,368.2 L1719.5,372.3 L1728.5,375.8 L1736.9,379.3 L1744.8,384.4 L1752.1,388.9 L1759.1,393.2 L1765.7,398.8 L1771.9,401.9 L1777.9,405.6 L1783.5,409.0 L1789.0,411.6 L1794.1,415.1 L1799.1,418.6 L1803.9,421.4 L1808.5,422.9 L1812.9,422.9 L1817.2,429.2 L1821.3,430.6 L1825.3,437.7 L1829.2,440.5 L1832.9,443.0 L1836.6,448.7 L1840.1,452.1 L1843.5,453.6 L1846.9,452.5 L1850.1,457.0 L1853.3,446.8 L1856.4,454.4 L1859.4,447.1 L1862.3,458.2 L1865.2,470.3 L1868.0,476.4 L1870.7,478.3 L1873.4,471.1 L1876.0,473.0 L1878.6,469.5 L1881.1,459.7 L1883.6,467.3 L1886.0,468.4 L1888.3,487.0 L1890.7,495.0 L1892.9,487.8 L1895.2,478.0 L1897.4,478.4 L1899.5,482.0 L1901.6,478.7 L1903.7,486.3 L1905.8,491.3 L1907.8,487.0 L1909.8,494.0 L1911.7,471.0 L1913.6,488.6 L1915.5,477.2 L1917.4,477.2 L1919.2,496.2 L1921.0,502.6 L1922.8,484.8 L1924.6,490.9 L1926.3,495.0 L1928.0,498.5 L1929.7,500.4 L1931.3,505.0 L1933.0,502.0 L1934.6,503.8 L1936.2,492.0 L1937.7,511.4 L1939.3,500.4 L1940.8,490.5 L1942.3,517.0 L1943.8,511.0 L1945.3,467.3 L1946.8,498.0 L1948.2,511.4 L1949.6,503.4 L1951.0,506.4 L1952.4,508.7 L1953.8,499.2 L1955.2,505.7 L1956.5,511.8 L1957.8,485.2 L1959.2,500.4 L1960.5,515.6 L1961.8,510.6 L1963.0,514.4 L1964.3,510.6 L1965.5,512.5 L1966.8,524.7 L1968.0,522.0" fill="none" stroke="#5d9fdc" stroke-width="1.75" stroke-linejoin="round" stroke-linecap="butt"/>
<path d="M1407.0,255.4 L1491.4,318.3 L1540.8,331.1 L1575.9,338.8 L1603.1,344.8 L1625.3,347.7 L1644.1,351.6 L1660.3,355.8 L1674.7,357.9 L1687.5,359.8 L1699.1,362.8 L1709.7,368.2 L1719.5,372.0 L1728.5,375.5 L1736.9,378.8 L1744.8,383.0 L1752.1,385.4 L1759.1,388.2 L1765.7,390.4 L1771.9,398.1 L1777.9,397.7 L1783.5,406.6 L1789.0,411.3 L1794.1,415.1 L1799.1,418.2 L1803.9,420.3 L1808.5,422.9 L1812.9,423.3 L1817.2,427.1 L1821.3,425.0 L1825.3,429.2 L1829.2,435.0 L1832.9,438.0 L1836.6,441.4 L1840.1,445.2 L1843.5,447.9 L1846.9,450.2 L1850.1,450.6 L1853.3,456.6 L1856.4,451.7 L1859.4,451.3 L1862.3,447.7 L1865.2,451.3 L1868.0,452.8 L1870.7,462.0 L1873.4,460.0 L1876.0,457.4 L1878.6,455.9 L1881.1,463.5 L1883.6,463.8 L1886.0,446.4 L1888.3,456.6 L1890.7,481.5 L1892.9,482.9 L1895.2,474.9 L1897.4,478.0 L1899.5,476.1 L1901.6,465.2 L1903.7,477.2 L1905.8,471.9 L1907.8,486.0 L1909.8,476.0 L1911.7,493.5 L1913.6,489.0 L1915.5,487.8 L1917.4,495.8 L1919.2,492.0 L1921.0,498.9 L1922.8,486.3 L1924.6,490.5 L1926.3,484.0 L1928.0,484.4 L1929.7,492.8 L1931.3,498.5 L1933.0,498.5 L1934.6,499.6 L1936.2,482.1 L1937.7,508.7 L1939.3,488.2 L1940.8,465.8 L1942.3,480.6 L1943.8,498.0 L1945.3,479.5 L1946.8,494.3 L1948.2,494.3 L1949.6,503.4 L1951.0,501.0 L1952.4,504.5 L1953.8,514.0 L1955.2,497.7 L1956.5,502.6 L1957.8,509.0 L1959.2,488.6 L1960.5,489.7 L1961.8,488.2 L1963.0,511.4 L1964.3,498.9 L1965.5,508.7 L1966.8,491.6 L1968.0,502.6" fill="none" stroke="#ec7063" stroke-width="1.75" stroke-linejoin="round" stroke-linecap="butt"/>
<path d="M1407.0,99.4 L1491.4,184.2 L1540.8,201.2 L1575.9,206.8 L1603.1,211.6 L1625.3,218.0 L1644.1,227.0 L1660.3,237.2 L1674.7,245.5 L1687.5,258.0 L1699.1,266.9 L1709.7,279.0 L1719.5,302.8 L1728.5,314.3 L1736.9,317.8 L1744.8,319.1 L1759.1,320.4 L1771.9,321.6 L1799.1,324.2 L1821.3,327.3 L1840.1,331.1 L1856.4,334.9 L1883.6,340.9 L1905.8,345.8 L1924.6,349.6 L1940.8,352.5 L1955.2,354.7 L1968.0,357.1" fill="none" stroke="#8b4799" stroke-width="1.75" stroke-linejoin="round" stroke-linecap="butt"/>
<path d="M1603.1,205.4 L1687.5,228.1 L1736.9,216.7 L1771.9,202.3 L1799.1,218.2 L1821.3,227.5 L1840.1,217.1 L1856.4,197.8 L1870.7,217.3 L1883.6,216.4 L1895.2,217.5 L1905.8,251.0 L1915.5,228.7 L1924.6,238.7 L1933.0,216.9 L1940.8,217.3 L1948.2,209.1 L1955.2,227.8 L1961.8,237.8 L1968.0,239.0" fill="none" stroke="#808080" stroke-width="1.75" stroke-linejoin="round" stroke-linecap="butt"/>
</g>
<rect x="1407.0" y="58.0" width="561.0" height="497.29999999999995" fill="none" stroke="#d0d0d0" stroke-width="1.4"/>
<text x="1392.85" y="585.40" font-size="18.4" text-anchor="start" >10</text>
<text x="1413.01" y="572.25" font-size="13.2" text-anchor="start" >0</text>
<text x="1673.35" y="585.40" font-size="18.4" text-anchor="start" >10</text>
<text x="1693.51" y="572.25" font-size="13.2" text-anchor="start" >1</text>
<text x="1953.85" y="585.40" font-size="18.4" text-anchor="start" >10</text>
<text x="1974.01" y="572.25" font-size="13.2" text-anchor="start" >2</text>
<text x="1687.50" y="608.50" font-size="20.2" text-anchor="middle" >Epochs</text>
<text x="1360.29" y="108.20" font-size="18.4" text-anchor="start" >10</text>
<text x="1380.45" y="95.05" font-size="13.2" text-anchor="start" >−1</text>
<text x="1360.29" y="213.20" font-size="18.4" text-anchor="start" >10</text>
<text x="1380.45" y="200.05" font-size="13.2" text-anchor="start" >−2</text>
<text x="1360.29" y="318.20" font-size="18.4" text-anchor="start" >10</text>
<text x="1380.45" y="305.05" font-size="13.2" text-anchor="start" >−3</text>
<text x="1360.29" y="423.20" font-size="18.4" text-anchor="start" >10</text>
<text x="1380.45" y="410.05" font-size="13.2" text-anchor="start" >−4</text>
<text x="1360.29" y="528.20" font-size="18.4" text-anchor="start" >10</text>
<text x="1380.45" y="515.05" font-size="13.2" text-anchor="start" >−5</text>
<text transform="translate(1350.50,306.35) rotate(-90)" font-size="20.2" text-anchor="middle">Loss</text>
<text x="1687.50" y="51.40" font-size="28.1" text-anchor="middle" >iML1515, UB</text>
<rect x="1807.2" y="67.5" width="152" height="110" rx="3.3" ry="3.3" fill="none" stroke="#cccccc" stroke-opacity="0.45" stroke-width="1.3"/>
<line x1="1814.20" y1="81.40" x2="1853.00" y2="81.40" stroke="#5d9fdc" stroke-width="1.8"/>
<text x="1867.30" y="87.75" font-size="18.5" text-anchor="start" >AMN - QP</text>
<line x1="1814.20" y1="107.65" x2="1853.00" y2="107.65" stroke="#ec7063" stroke-width="1.8"/>
<text x="1867.30" y="114.00" font-size="18.5" text-anchor="start" >AMN - LP</text>
<line x1="1814.20" y1="133.90" x2="1853.00" y2="133.90" stroke="#8b4799" stroke-width="1.8"/>
<text x="1867.30" y="140.25" font-size="18.5" text-anchor="start" >AMN - Wt</text>
<line x1="1814.20" y1="160.15" x2="1853.00" y2="160.15" stroke="#808080" stroke-width="1.8"/>
<text x="1867.30" y="166.50" font-size="18.5" text-anchor="start" >ANN</text>
<clipPath id="c01"><rect x="70.5" y="644.1" width="561.0" height="497.30000000000007"/></clipPath>
<g stroke="#cccccc" stroke-width="1.67" fill="none">
<line x1="351.00" y1="644.1" x2="351.00" y2="1141.4"/>
<line x1="70.5" y1="1041.94" x2="631.5" y2="1041.94"/>
<line x1="70.5" y1="942.48" x2="631.5" y2="942.48"/>
<line x1="70.5" y1="843.02" x2="631.5" y2="843.02"/>
<line x1="70.5" y1="743.56" x2="631.5" y2="743.56"/>
</g>
<g clip-path="url(#c01)">
<path d="M70.5,686.6 L154.9,668.3 L204.3,660.5 L239.4,658.7 L266.6,657.0 L288.8,656.2 L307.6,655.4 L323.8,654.8 L338.2,654.3 L351.0,653.8 L373.2,653.6 L400.4,653.5 L435.4,653.3 L462.6,653.3 L484.8,653.1 L500.0,653.2 L507.1,653.5 L517.7,652.8 L533.4,652.6 L536.6,653.9 L539.7,652.8 L549.7,652.6 L553.9,653.2 L558.2,652.7 L565.3,653.4 L569.6,652.6 L575.2,653.1 L577.0,654.3 L578.8,652.8 L585.2,653.1 L592.3,652.7 L599.4,653.2 L606.5,652.8 L613.6,653.1 L620.7,652.6 L624.9,653.2 L627.8,652.7 L631.3,653.1 L631.3,655.1 L627.8,654.7 L624.9,655.2 L620.7,654.6 L613.6,655.1 L606.5,654.8 L599.4,655.2 L592.3,654.7 L585.2,655.1 L578.8,654.8 L577.0,656.3 L575.2,655.1 L569.6,654.6 L565.3,655.4 L558.2,654.7 L553.9,655.2 L549.7,654.6 L539.7,654.8 L536.6,655.9 L533.4,654.6 L517.7,654.8 L507.1,655.5 L500.0,655.2 L484.8,655.1 L462.6,655.3 L435.4,655.3 L400.4,655.5 L373.2,655.6 L351.0,655.8 L338.2,656.3 L323.8,656.8 L307.6,657.4 L288.8,658.2 L266.6,659.2 L239.4,661.0 L204.3,664.7 L154.9,676.7 L70.5,713.5Z" fill="#5d9fdc" fill-opacity="0.2" stroke="#5d9fdc" stroke-opacity="0.2" stroke-width="1.5" stroke-linejoin="round"/>
<path d="M70.5,696.5 L154.9,667.6 L204.3,661.2 L239.4,658.6 L266.6,656.6 L288.8,655.3 L307.6,653.6 L323.8,652.4 L338.2,651.4 L351.0,650.5 L373.2,649.5 L400.4,648.6 L435.4,647.7 L484.8,647.0 L547.1,646.6 L588.1,646.4 L631.5,646.2 L631.5,648.2 L588.1,648.4 L547.1,648.6 L484.8,649.0 L435.4,649.7 L400.4,650.6 L373.2,651.5 L351.0,652.5 L338.2,653.4 L323.8,654.4 L307.6,655.6 L288.8,657.3 L266.6,658.8 L239.4,661.0 L204.3,666.1 L154.9,674.6 L70.5,715.6Z" fill="#ec7063" fill-opacity="0.2" stroke="#ec7063" stroke-opacity="0.2" stroke-width="1.5" stroke-linejoin="round"/>
<path d="M70.5,823.3 L154.9,692.6 L204.3,675.3 L239.4,668.3 L266.6,665.0 L288.8,662.8 L307.6,661.2 L323.8,660.2 L338.2,659.2 L351.0,658.6 L392.0,656.0 L435.4,653.6 L484.8,651.4 L519.9,650.0 L569.3,648.5 L604.3,647.8 L631.5,647.3 L631.5,648.3 L604.3,648.8 L569.3,649.5 L519.9,651.2 L484.8,652.6 L435.4,655.0 L392.0,657.6 L351.0,660.6 L338.2,661.3 L323.8,662.3 L307.6,663.7 L288.8,665.7 L266.6,669.0 L239.4,674.6 L204.3,686.4 L154.9,719.2 L70.5,995.0Z" fill="#8b4799" fill-opacity="0.2" stroke="#8b4799" stroke-opacity="0.2" stroke-width="1.5" stroke-linejoin="round"/>
<path d="M154.9,1186.0 L204.3,1077.0 L239.4,856.0 L266.6,814.5 L288.8,780.5 L307.6,753.5 L323.8,737.0 L338.2,738.5 L351.0,711.0 L362.6,712.0 L372.9,697.3 L382.8,698.3 L391.7,699.4 L399.6,694.9 L408.1,695.2 L415.3,690.8 L422.3,696.2 L428.7,686.2 L435.1,684.0 L441.0,694.0 L451.9,691.0 L457.4,698.2 L462.4,694.0 L467.1,699.4 L471.7,695.3 L476.2,702.2 L484.7,693.7 L489.2,695.3 L492.0,695.2 L496.3,697.3 L503.2,691.2 L506.7,691.2 L510.1,687.1 L513.5,701.3 L519.3,693.5 L522.7,699.2 L525.9,697.8 L529.1,695.9 L532.6,695.3 L536.9,694.9 L539.4,690.0 L544.0,695.7 L546.8,695.7 L549.3,697.3 L552.0,691.0 L556.4,699.6 L558.9,692.8 L562.8,694.2 L565.3,699.6 L567.1,700.3 L569.9,694.6 L573.1,688.2 L575.2,693.9 L577.0,692.1 L578.8,693.2 L580.9,690.3 L582.7,693.2 L584.5,692.8 L586.2,701.7 L588.0,704.5 L590.1,691.7 L591.6,687.8 L594.7,697.4 L599.7,690.7 L601.1,694.2 L602.9,690.0 L605.7,690.0 L607.2,687.8 L608.9,687.8 L611.4,684.5 L613.2,692.1 L614.6,688.2 L616.0,690.7 L617.2,685.9 L618.9,694.2 L620.3,693.9 L621.5,697.1 L622.9,691.0 L624.9,691.0 L627.8,684.7 L629.5,692.5 L631.3,691.7 L631.3,697.5 L629.5,698.3 L627.8,690.5 L624.9,696.8 L622.9,696.8 L621.5,702.9 L620.3,699.7 L618.9,700.0 L617.2,691.7 L616.0,696.5 L614.6,694.0 L613.2,697.9 L611.4,690.3 L608.9,693.6 L607.2,693.6 L605.7,695.8 L602.9,695.8 L601.1,700.0 L599.7,696.5 L594.7,703.2 L591.6,693.6 L590.1,697.5 L588.0,710.3 L586.2,707.5 L584.5,698.6 L582.7,699.0 L580.9,696.1 L578.8,699.0 L577.0,697.9 L575.2,699.7 L573.1,694.0 L569.9,700.4 L567.1,706.1 L565.3,705.4 L562.8,700.0 L558.9,698.6 L556.4,705.4 L552.0,696.8 L549.3,703.1 L546.8,701.5 L544.0,701.5 L539.4,695.8 L536.9,700.7 L532.6,701.1 L529.1,701.7 L525.9,703.6 L522.7,705.0 L519.3,699.3 L513.5,707.1 L510.1,692.9 L506.7,697.0 L503.2,697.0 L496.3,703.1 L492.0,701.0 L489.2,701.1 L484.7,699.5 L476.2,708.0 L471.7,701.1 L467.1,705.2 L462.4,699.8 L457.4,704.0 L451.9,696.8 L441.0,699.8 L435.1,689.8 L428.7,692.0 L422.3,702.0 L415.3,696.6 L408.1,701.0 L399.6,700.7 L391.7,705.2 L382.8,704.1 L372.9,703.1 L362.6,722.5 L351.0,719.5 L338.2,745.5 L323.8,743.5 L307.6,758.5 L288.8,785.0 L266.6,819.5 L239.4,862.5 L204.3,1542.0Z" fill="#808080" fill-opacity="0.2" stroke="#808080" stroke-opacity="0.2" stroke-width="1.5" stroke-linejoin="round"/>
<path d="M70.5,699.4 L154.9,671.8 L204.3,661.9 L239.4,659.8 L266.6,658.1 L288.8,657.2 L307.6,656.4 L323.8,655.8 L338.2,655.3 L351.0,654.8 L373.2,654.6 L400.4,654.5 L435.4,654.3 L462.6,654.3 L484.8,654.1 L500.0,654.2 L507.1,654.5 L517.7,653.8 L533.4,653.6 L536.6,654.9 L539.7,653.8 L549.7,653.6 L553.9,654.2 L558.2,653.7 L565.3,654.4 L569.6,653.6 L575.2,654.1 L577.0,655.3 L578.8,653.8 L585.2,654.1 L592.3,653.7 L599.4,654.2 L606.5,653.8 L613.6,654.1 L620.7,653.6 L624.9,654.2 L627.8,653.7 L631.3,654.1" fill="none" stroke="#5d9fdc" stroke-width="1.75" stroke-linejoin="round" stroke-linecap="butt"/>
<path d="M70.5,704.7 L154.9,670.4 L204.3,663.3 L239.4,659.8 L266.6,657.7 L288.8,656.3 L307.6,654.6 L323.8,653.4 L338.2,652.4 L351.0,651.5 L373.2,650.5 L400.4,649.6 L435.4,648.7 L484.8,648.0 L547.1,647.6 L588.1,647.4 L631.5,647.2" fill="none" stroke="#ec7063" stroke-width="1.75" stroke-linejoin="round" stroke-linecap="butt"/>
<path d="M70.5,908.5 L154.9,705.0 L204.3,680.3 L239.4,671.4 L266.6,666.9 L288.8,664.0 L307.6,662.3 L323.8,661.2 L338.2,660.2 L351.0,659.6 L392.0,656.8 L435.4,654.3 L484.8,652.0 L519.9,650.6 L569.3,649.0 L604.3,648.3 L631.5,647.8" fill="none" stroke="#8b4799" stroke-width="1.75" stroke-linejoin="round" stroke-linecap="butt"/>
<path d="M204.3,1330.0 L239.4,859.4 L266.6,817.0 L288.8,782.8 L307.6,755.9 L323.8,740.1 L338.2,741.5 L350.9,715.5 L362.1,717.5 L372.9,700.2 L382.8,701.2 L391.7,702.3 L399.6,697.8 L408.1,698.1 L415.3,693.7 L422.3,699.1 L428.7,689.1 L435.1,686.9 L441.0,696.9 L451.9,693.9 L457.4,701.1 L462.4,696.9 L467.1,702.3 L471.7,698.2 L476.2,705.1 L484.7,696.6 L489.2,698.2 L492.0,698.1 L496.3,700.2 L503.2,694.1 L506.7,694.1 L510.1,690.0 L513.5,704.2 L519.3,696.4 L522.7,702.1 L525.9,700.7 L529.1,698.8 L532.6,698.2 L536.9,697.8 L539.4,692.9 L544.0,698.6 L546.8,698.6 L549.3,700.2 L552.0,693.9 L556.4,702.5 L558.9,695.7 L562.8,697.1 L565.3,702.5 L567.1,703.2 L569.9,697.5 L573.1,691.1 L575.2,696.8 L577.0,695.0 L578.8,696.1 L580.9,693.2 L582.7,696.1 L584.5,695.7 L586.2,704.6 L588.0,707.4 L590.1,694.6 L591.6,690.7 L594.7,700.3 L599.7,693.6 L601.1,697.1 L602.9,692.9 L605.7,692.9 L607.2,690.7 L608.9,690.7 L611.4,687.4 L613.2,695.0 L614.6,691.1 L616.0,693.6 L617.2,688.8 L618.9,697.1 L620.3,696.8 L621.5,700.0 L622.9,693.9 L624.9,693.9 L627.8,687.6 L629.5,695.4 L631.3,694.6" fill="none" stroke="#808080" stroke-width="1.75" stroke-linejoin="round" stroke-linecap="butt"/>
</g>
<rect x="70.5" y="644.1" width="561.0" height="497.30000000000007" fill="none" stroke="#d0d0d0" stroke-width="1.4"/>
<text x="56.35" y="1170.50" font-size="18.4" text-anchor="start" >10</text>
<text x="76.51" y="1157.35" font-size="13.2" text-anchor="start" >0</text>
<text x="336.85" y="1170.50" font-size="18.4" text-anchor="start" >10</text>
<text x="357.01" y="1157.35" font-size="13.2" text-anchor="start" >1</text>
<text x="617.35" y="1170.50" font-size="18.4" text-anchor="start" >10</text>
<text x="637.51" y="1157.35" font-size="13.2" text-anchor="start" >2</text>
<text x="351.00" y="1193.60" font-size="20.2" text-anchor="middle" >Epochs</text>
<text x="59.60" y="1147.90" font-size="18.4" text-anchor="end" >0.0</text>
<text x="59.60" y="1048.44" font-size="18.4" text-anchor="end" >0.2</text>
<text x="59.60" y="948.98" font-size="18.4" text-anchor="end" >0.4</text>
<text x="59.60" y="849.52" font-size="18.4" text-anchor="end" >0.6</text>
<text x="59.60" y="750.06" font-size="18.4" text-anchor="end" >0.8</text>
<text x="59.60" y="650.60" font-size="18.4" text-anchor="end" >1.0</text>
<text transform="translate(23.70,893.75) rotate(-90)" font-size="20.7" text-anchor="middle"><tspan font-style="italic">Q</tspan><tspan font-size="14.6" dy="-5.8" dx="1.5">2</tspan></text>
<rect x="470.5" y="1022.4" width="152" height="110" rx="3.3" ry="3.3" fill="none" stroke="#cccccc" stroke-opacity="0.45" stroke-width="1.3"/>
<line x1="477.50" y1="1035.80" x2="516.30" y2="1035.80" stroke="#5d9fdc" stroke-width="1.8"/>
<text x="530.60" y="1042.15" font-size="18.5" text-anchor="start" >AMN - QP</text>
<line x1="477.50" y1="1062.05" x2="516.30" y2="1062.05" stroke="#ec7063" stroke-width="1.8"/>
<text x="530.60" y="1068.40" font-size="18.5" text-anchor="start" >AMN - LP</text>
<line x1="477.50" y1="1088.30" x2="516.30" y2="1088.30" stroke="#8b4799" stroke-width="1.8"/>
<text x="530.60" y="1094.65" font-size="18.5" text-anchor="start" >AMN - Wt</text>
<line x1="477.50" y1="1114.55" x2="516.30" y2="1114.55" stroke="#808080" stroke-width="1.8"/>
<text x="530.60" y="1120.90" font-size="18.5" text-anchor="start" >ANN</text>
<clipPath id="c11"><rect x="738.75" y="644.1" width="561.0" height="497.30000000000007"/></clipPath>
<g stroke="#cccccc" stroke-width="1.67" fill="none">
<line x1="1019.25" y1="644.1" x2="1019.25" y2="1141.4"/>
<line x1="738.75" y1="1041.94" x2="1299.75" y2="1041.94"/>
<line x1="738.75" y1="942.48" x2="1299.75" y2="942.48"/>
<line x1="738.75" y1="843.02" x2="1299.75" y2="843.02"/>
<line x1="738.75" y1="743.56" x2="1299.75" y2="743.56"/>
</g>
<g clip-path="url(#c11)">
<path d="M738.8,688.8 L823.2,666.6 L872.6,661.9 L907.6,659.8 L934.8,658.4 L957.0,657.7 L975.8,657.2 L992.1,657.0 L1006.4,656.7 L1019.2,655.8 L1051.2,655.8 L1083.9,654.8 L1130.9,653.6 L1148.1,653.8 L1158.1,654.3 L1165.4,654.7 L1168.0,654.1 L1182.2,653.8 L1188.2,654.8 L1199.9,652.6 L1210.6,652.9 L1224.8,652.6 L1239.0,652.8 L1260.3,652.6 L1281.6,652.6 L1283.0,653.3 L1284.4,652.7 L1299.7,652.7 L1299.7,655.1 L1284.4,655.1 L1283.0,655.7 L1281.6,655.0 L1260.3,655.0 L1239.0,655.2 L1224.8,655.0 L1210.6,655.3 L1199.9,655.0 L1188.2,657.2 L1182.2,656.2 L1168.0,656.5 L1165.4,657.1 L1158.1,656.7 L1148.1,656.2 L1130.9,656.6 L1083.9,657.6 L1051.2,661.2 L1019.2,661.2 L1006.4,662.6 L992.1,661.2 L975.8,662.3 L957.0,661.9 L934.8,662.6 L907.6,664.0 L872.6,669.0 L823.2,680.3 L738.8,717.0Z" fill="#5d9fdc" fill-opacity="0.2" stroke="#5d9fdc" stroke-opacity="0.2" stroke-width="1.5" stroke-linejoin="round"/>
<path d="M738.8,697.2 L823.2,667.6 L872.6,661.9 L907.6,659.1 L934.8,657.2 L957.0,655.8 L975.8,655.5 L992.1,654.8 L1006.4,653.7 L1019.2,652.7 L1041.5,651.3 L1068.6,649.8 L1103.7,648.4 L1153.1,647.3 L1188.1,646.8 L1237.5,646.6 L1299.8,646.5 L1299.8,648.5 L1237.5,648.6 L1188.1,648.8 L1153.1,649.3 L1103.7,650.4 L1068.6,651.8 L1041.5,653.3 L1019.2,654.9 L1006.4,656.7 L992.1,658.4 L975.8,660.5 L957.0,660.5 L934.8,661.9 L907.6,664.7 L872.6,670.4 L823.2,683.8 L738.8,751.0Z" fill="#ec7063" fill-opacity="0.2" stroke="#ec7063" stroke-opacity="0.2" stroke-width="1.5" stroke-linejoin="round"/>
<path d="M823.2,1449.0 L872.6,828.5 L907.6,779.5 L934.8,753.7 L957.0,722.8 L975.8,710.7 L992.1,701.3 L1006.4,694.2 L1018.9,698.9 L1031.2,688.4 L1041.8,692.3 L1051.5,685.2 L1060.3,693.6 L1069.0,691.6 L1076.7,696.6 L1084.3,682.5 L1091.3,690.0 L1098.1,686.6 L1104.0,684.8 L1109.5,689.8 L1115.8,693.4 L1121.1,680.5 L1126.3,686.1 L1135.8,692.2 L1140.4,681.6 L1144.9,690.7 L1149.3,685.2 L1153.6,686.1 L1157.7,679.0 L1161.3,680.7 L1165.2,686.6 L1168.0,682.4 L1172.3,678.2 L1175.5,682.4 L1178.6,683.5 L1182.2,681.6 L1185.4,682.1 L1188.6,680.2 L1194.3,679.4 L1197.1,675.9 L1200.3,679.2 L1202.8,676.4 L1205.3,677.5 L1208.1,673.9 L1210.6,675.0 L1215.2,672.5 L1218.0,677.1 L1220.5,675.7 L1224.8,675.0 L1227.3,678.5 L1229.6,673.9 L1231.5,676.0 L1233.9,671.4 L1236.1,672.5 L1241.8,680.6 L1243.8,674.3 L1245.4,674.3 L1248.2,673.2 L1249.6,673.6 L1252.5,676.7 L1254.9,672.1 L1256.4,673.9 L1258.1,671.8 L1260.1,681.0 L1262.0,672.5 L1263.5,677.1 L1265.2,669.3 L1266.7,671.1 L1268.4,679.6 L1270.1,673.2 L1271.6,673.2 L1274.5,668.1 L1275.9,670.4 L1277.5,678.2 L1280.1,671.4 L1283.0,676.0 L1285.8,671.8 L1287.6,675.0 L1288.7,672.3 L1290.4,673.2 L1292.6,676.0 L1294.0,670.7 L1296.5,675.3 L1299.7,671.8 L1299.7,677.8 L1296.5,681.3 L1294.0,676.7 L1292.6,682.0 L1290.4,679.2 L1288.7,678.3 L1287.6,681.0 L1285.8,677.8 L1283.0,682.0 L1280.1,677.4 L1277.5,684.2 L1275.9,676.4 L1274.5,674.1 L1271.6,679.2 L1270.1,679.2 L1268.4,685.6 L1266.7,677.1 L1265.2,675.3 L1263.5,683.1 L1262.0,678.5 L1260.1,687.0 L1258.1,677.8 L1256.4,679.9 L1254.9,678.1 L1252.5,682.7 L1249.6,679.6 L1248.2,679.2 L1245.4,680.3 L1243.8,680.3 L1241.8,686.6 L1236.1,678.5 L1233.9,677.4 L1231.5,682.0 L1229.6,679.9 L1227.3,684.5 L1224.8,681.0 L1220.5,681.7 L1218.0,683.1 L1215.2,678.5 L1210.6,681.0 L1208.1,679.9 L1205.3,683.5 L1202.8,682.4 L1200.3,685.2 L1197.1,681.9 L1194.3,685.4 L1188.6,686.2 L1185.4,688.1 L1182.2,687.6 L1178.6,689.5 L1175.5,688.4 L1172.3,684.2 L1168.0,688.4 L1165.2,692.6 L1161.3,686.7 L1157.7,685.0 L1153.6,692.1 L1149.3,691.2 L1144.9,696.7 L1140.4,687.6 L1135.8,698.2 L1126.3,692.1 L1121.1,686.5 L1115.8,699.4 L1109.5,695.8 L1104.0,690.8 L1098.1,692.6 L1091.3,696.0 L1084.3,688.5 L1076.7,702.6 L1069.0,697.6 L1060.3,699.6 L1051.5,691.2 L1041.8,698.3 L1031.2,694.4 L1018.9,704.9 L1006.4,700.2 L992.1,707.3 L975.8,719.2 L957.0,731.8 L934.8,763.0 L907.6,789.0 L872.6,835.5 L823.2,2109.0Z" fill="#808080" fill-opacity="0.2" stroke="#808080" stroke-opacity="0.2" stroke-width="1.5" stroke-linejoin="round"/>
<path d="M738.8,700.8 L823.2,673.2 L872.6,665.2 L907.6,661.9 L934.8,660.5 L957.0,659.4 L975.8,658.8 L992.1,658.4 L1006.4,658.7 L1019.2,658.1 L1033.5,658.5 L1059.9,658.2 L1083.5,656.4 L1089.9,655.9 L1097.2,656.7 L1104.5,655.9 L1117.2,655.7 L1129.9,655.0 L1138.1,655.9 L1148.1,655.0 L1158.1,655.5 L1165.4,655.9 L1168.0,655.3 L1182.2,655.0 L1188.2,656.0 L1199.9,653.8 L1210.6,654.1 L1224.8,653.8 L1239.0,654.0 L1260.3,653.8 L1281.6,653.8 L1283.0,654.5 L1284.4,653.9 L1299.7,653.9" fill="none" stroke="#5d9fdc" stroke-width="1.75" stroke-linejoin="round" stroke-linecap="butt"/>
<path d="M738.8,721.3 L823.2,673.2 L872.6,665.4 L907.6,661.5 L934.8,659.4 L957.0,658.0 L975.8,658.1 L992.1,656.3 L1006.4,654.8 L1019.2,653.8 L1041.5,652.3 L1068.6,650.8 L1103.7,649.4 L1153.1,648.3 L1188.1,647.8 L1237.5,647.6 L1299.8,647.5" fill="none" stroke="#ec7063" stroke-width="1.75" stroke-linejoin="round" stroke-linecap="butt"/>
<path d="M823.2,1763.0 L872.6,832.1 L907.6,784.2 L934.8,758.4 L957.0,727.3 L975.8,714.9 L992.1,704.3 L1006.4,697.2 L1018.9,701.9 L1031.2,691.4 L1041.8,695.3 L1051.5,688.2 L1060.3,696.6 L1069.0,694.6 L1076.7,699.6 L1084.3,685.5 L1091.3,693.0 L1098.1,689.6 L1104.0,687.8 L1109.5,692.8 L1115.8,696.4 L1121.1,683.5 L1126.3,689.1 L1135.8,695.2 L1140.4,684.6 L1144.9,693.7 L1149.3,688.2 L1153.6,689.1 L1157.7,682.0 L1161.3,683.7 L1165.2,689.6 L1168.0,685.4 L1172.3,681.2 L1175.5,685.4 L1178.6,686.5 L1182.2,684.6 L1185.4,685.1 L1188.6,683.2 L1194.3,682.4 L1197.1,678.9 L1200.3,682.2 L1202.8,679.4 L1205.3,680.5 L1208.1,676.9 L1210.6,678.0 L1215.2,675.5 L1218.0,680.1 L1220.5,678.7 L1224.8,678.0 L1227.3,681.5 L1229.6,676.9 L1231.5,679.0 L1233.9,674.4 L1236.1,675.5 L1241.8,683.6 L1243.8,677.3 L1245.4,677.3 L1248.2,676.2 L1249.6,676.6 L1252.5,679.7 L1254.9,675.1 L1256.4,676.9 L1258.1,674.8 L1260.1,684.0 L1262.0,675.5 L1263.5,680.1 L1265.2,672.3 L1266.7,674.1 L1268.4,682.6 L1270.1,676.2 L1271.6,676.2 L1274.5,671.1 L1275.9,673.4 L1277.5,681.2 L1280.1,674.4 L1283.0,679.0 L1285.8,674.8 L1287.6,678.0 L1288.7,675.3 L1290.4,676.2 L1292.6,679.0 L1294.0,673.7 L1296.5,678.3 L1299.7,674.8" fill="none" stroke="#808080" stroke-width="1.75" stroke-linejoin="round" stroke-linecap="butt"/>
</g>
<rect x="738.75" y="644.1" width="561.0" height="497.30000000000007" fill="none" stroke="#d0d0d0" stroke-width="1.4"/>
<text x="724.60" y="1170.50" font-size="18.4" text-anchor="start" >10</text>
<text x="744.76" y="1157.35" font-size="13.2" text-anchor="start" >0</text>
<text x="1005.10" y="1170.50" font-size="18.4" text-anchor="start" >10</text>
<text x="1025.26" y="1157.35" font-size="13.2" text-anchor="start" >1</text>
<text x="1285.60" y="1170.50" font-size="18.4" text-anchor="start" >10</text>
<text x="1305.76" y="1157.35" font-size="13.2" text-anchor="start" >2</text>
<text x="1019.25" y="1193.60" font-size="20.2" text-anchor="middle" >Epochs</text>
<text x="727.85" y="1147.90" font-size="18.4" text-anchor="end" >0.0</text>
<text x="727.85" y="1048.44" font-size="18.4" text-anchor="end" >0.2</text>
<text x="727.85" y="948.98" font-size="18.4" text-anchor="end" >0.4</text>
<text x="727.85" y="849.52" font-size="18.4" text-anchor="end" >0.6</text>
<text x="727.85" y="750.06" font-size="18.4" text-anchor="end" >0.8</text>
<text x="727.85" y="650.60" font-size="18.4" text-anchor="end" >1.0</text>
<text transform="translate(691.95,893.75) rotate(-90)" font-size="20.7" text-anchor="middle"><tspan font-style="italic">Q</tspan><tspan font-size="14.6" dy="-5.8" dx="1.5">2</tspan></text>
<rect x="1139.5" y="1048.7" width="152" height="85" rx="3.3" ry="3.3" fill="none" stroke="#cccccc" stroke-opacity="0.45" stroke-width="1.3"/>
<line x1="1146.50" y1="1062.20" x2="1185.30" y2="1062.20" stroke="#5d9fdc" stroke-width="1.8"/>
<text x="1199.60" y="1068.55" font-size="18.5" text-anchor="start" >AMN - QP</text>
<line x1="1146.50" y1="1088.45" x2="1185.30" y2="1088.45" stroke="#ec7063" stroke-width="1.8"/>
<text x="1199.60" y="1094.80" font-size="18.5" text-anchor="start" >AMN - LP</text>
<line x1="1146.50" y1="1114.70" x2="1185.30" y2="1114.70" stroke="#808080" stroke-width="1.8"/>
<text x="1199.60" y="1121.05" font-size="18.5" text-anchor="start" >ANN</text>
<clipPath id="c21"><rect x="1407.0" y="644.1" width="561.0" height="497.30000000000007"/></clipPath>
<g stroke="#cccccc" stroke-width="1.67" fill="none">
<line x1="1687.50" y1="644.1" x2="1687.50" y2="1141.4"/>
<line x1="1407.0" y1="1041.94" x2="1968.0" y2="1041.94"/>
<line x1="1407.0" y1="942.48" x2="1968.0" y2="942.48"/>
<line x1="1407.0" y1="843.02" x2="1968.0" y2="843.02"/>
<line x1="1407.0" y1="743.56" x2="1968.0" y2="743.56"/>
</g>
<g clip-path="url(#c21)">
<path d="M1407.0,710.7 L1491.4,659.6 L1540.8,654.2 L1575.9,653.1 L1603.1,652.1 L1625.3,651.4 L1644.1,650.7 L1660.3,650.4 L1674.7,650.0 L1687.5,649.6 L1736.9,647.5 L1771.9,646.2 L1821.3,645.2 L1883.6,644.6 L1968.0,644.3 L1968.0,645.5 L1883.6,645.8 L1821.3,646.4 L1771.9,647.4 L1736.9,648.7 L1687.5,650.8 L1674.7,651.2 L1660.3,651.6 L1644.1,651.9 L1625.3,652.6 L1603.1,653.3 L1575.9,654.3 L1540.8,655.4 L1491.4,661.6 L1407.0,724.8Z" fill="#5d9fdc" fill-opacity="0.2" stroke="#5d9fdc" stroke-opacity="0.2" stroke-width="1.5" stroke-linejoin="round"/>
<path d="M1407.0,698.7 L1491.4,658.4 L1540.8,654.7 L1575.9,653.1 L1603.1,652.1 L1625.3,651.4 L1644.1,650.7 L1660.3,650.4 L1674.7,650.0 L1687.5,649.4 L1736.9,647.5 L1771.9,646.2 L1821.3,645.2 L1883.6,644.6 L1968.0,644.3 L1968.0,645.5 L1883.6,645.8 L1821.3,646.4 L1771.9,647.4 L1736.9,648.7 L1687.5,650.6 L1674.7,651.2 L1660.3,651.6 L1644.1,651.9 L1625.3,652.6 L1603.1,653.3 L1575.9,654.3 L1540.8,655.9 L1491.4,660.6 L1407.0,712.1Z" fill="#ec7063" fill-opacity="0.2" stroke="#ec7063" stroke-opacity="0.2" stroke-width="1.5" stroke-linejoin="round"/>
<path d="M1407.0,1589.0 L1491.4,816.7 L1540.8,818.2 L1575.9,789.2 L1603.1,755.9 L1625.3,726.2 L1644.1,691.6 L1660.3,667.6 L1674.7,659.3 L1687.5,658.2 L1699.1,658.0 L1709.7,657.8 L1719.5,657.6 L1728.5,657.3 L1736.9,657.0 L1771.9,655.9 L1821.3,654.8 L1883.6,651.5 L1924.6,650.2 L1968.0,649.4 L1968.0,651.6 L1924.6,652.3 L1883.6,653.3 L1821.3,656.0 L1771.9,657.2 L1736.9,659.1 L1728.5,662.7 L1719.5,674.8 L1709.7,712.9 L1699.1,738.8 L1687.5,755.8 L1674.7,771.7 L1660.3,779.9 L1644.1,799.2 L1625.3,810.0 L1603.1,814.6 L1575.9,820.3 L1540.8,838.7 L1491.4,1008.4 L1407.0,3557.0Z" fill="#8b4799" fill-opacity="0.2" stroke="#8b4799" stroke-opacity="0.2" stroke-width="1.5" stroke-linejoin="round"/>
<path d="M1404.0,1101.3 L1603.1,1101.3 L1687.5,892.7 L1736.9,983.9 L1771.9,1107.4 L1799.1,951.4 L1821.3,895.8 L1840.1,1024.0 L1856.4,1152.0 L1870.7,982.9 L1883.6,973.0 L1895.2,964.4 L1905.8,787.7 L1915.5,891.2 L1924.6,849.5 L1933.0,987.0 L1940.8,959.8 L1948.2,1058.0 L1955.2,888.1 L1961.8,854.1 L1968.0,846.4 L1968.0,915.9 L1961.8,919.0 L1955.2,1005.5 L1948.2,1146.0 L1940.8,1088.0 L1933.0,1078.0 L1924.6,919.0 L1915.5,997.8 L1905.8,857.2 L1895.2,1090.4 L1883.6,1094.4 L1870.7,1071.9 L1856.4,1330.0 L1840.1,1030.0 L1821.3,999.9 L1799.1,1079.6 L1771.9,1238.7 L1736.9,1073.4 L1687.5,999.3 L1603.1,1214.0 L1404.0,1214.0Z" fill="#808080" fill-opacity="0.2" stroke="#808080" stroke-opacity="0.2" stroke-width="1.5" stroke-linejoin="round"/>
<path d="M1407.0,717.5 L1491.4,660.5 L1540.8,654.8 L1575.9,653.7 L1603.1,652.7 L1625.3,652.0 L1644.1,651.3 L1660.3,651.0 L1674.7,650.6 L1687.5,650.2 L1736.9,648.1 L1771.9,646.8 L1821.3,645.8 L1883.6,645.2 L1968.0,644.9" fill="none" stroke="#5d9fdc" stroke-width="1.75" stroke-linejoin="round" stroke-linecap="butt"/>
<path d="M1407.0,706.1 L1491.4,659.5 L1540.8,655.3 L1575.9,653.7 L1603.1,652.7 L1625.3,652.0 L1644.1,651.3 L1660.3,651.0 L1674.7,650.6 L1687.5,650.0 L1736.9,648.1 L1771.9,646.8 L1821.3,645.8 L1883.6,645.2 L1968.0,644.9" fill="none" stroke="#ec7063" stroke-width="1.75" stroke-linejoin="round" stroke-linecap="butt"/>
<path d="M1407.0,2353.0 L1491.4,910.7 L1540.8,826.6 L1575.9,804.0 L1603.1,788.3 L1625.3,769.8 L1644.1,746.7 L1660.3,724.1 L1674.7,710.6 L1687.5,695.1 L1699.1,686.2 L1709.7,677.2 L1719.5,663.5 L1728.5,659.1 L1736.9,657.8 L1771.9,656.5 L1821.3,655.4 L1883.6,652.1 L1924.6,650.8 L1968.0,650.0" fill="none" stroke="#8b4799" stroke-width="1.75" stroke-linejoin="round" stroke-linecap="butt"/>
<path d="M1603.1,1159.4 L1687.5,945.9 L1736.9,1028.6 L1771.9,1180.0 L1799.1,1015.4 L1821.3,947.7 L1840.1,1027.1 L1856.4,1240.0 L1870.7,1027.7 L1883.6,1033.3 L1895.2,1027.1 L1905.8,823.2 L1915.5,944.3 L1924.6,884.1 L1933.0,1032.4 L1940.8,1024.0 L1948.2,1106.8 L1955.2,946.8 L1961.8,886.6 L1968.0,881.3" fill="none" stroke="#808080" stroke-width="1.75" stroke-linejoin="round" stroke-linecap="butt"/>
</g>
<rect x="1407.0" y="644.1" width="561.0" height="497.30000000000007" fill="none" stroke="#d0d0d0" stroke-width="1.4"/>
<text x="1392.85" y="1170.50" font-size="18.4" text-anchor="start" >10</text>
<text x="1413.01" y="1157.35" font-size="13.2" text-anchor="start" >0</text>
<text x="1673.35" y="1170.50" font-size="18.4" text-anchor="start" >10</text>
<text x="1693.51" y="1157.35" font-size="13.2" text-anchor="start" >1</text>
<text x="1953.85" y="1170.50" font-size="18.4" text-anchor="start" >10</text>
<text x="1974.01" y="1157.35" font-size="13.2" text-anchor="start" >2</text>
<text x="1687.50" y="1193.60" font-size="20.2" text-anchor="middle" >Epochs</text>
<text x="1396.10" y="1147.90" font-size="18.4" text-anchor="end" >0.0</text>
<text x="1396.10" y="1048.44" font-size="18.4" text-anchor="end" >0.2</text>
<text x="1396.10" y="948.98" font-size="18.4" text-anchor="end" >0.4</text>
<text x="1396.10" y="849.52" font-size="18.4" text-anchor="end" >0.6</text>
<text x="1396.10" y="750.06" font-size="18.4" text-anchor="end" >0.8</text>
<text x="1396.10" y="650.60" font-size="18.4" text-anchor="end" >1.0</text>
<text transform="translate(1360.20,893.75) rotate(-90)" font-size="20.7" text-anchor="middle"><tspan font-style="italic">Q</tspan><tspan font-size="14.6" dy="-5.8" dx="1.5">2</tspan></text>
<rect x="1802.4" y="664.3" width="151.5" height="110" rx="3.3" ry="3.3" fill="none" stroke="#cccccc" stroke-opacity="0.45" stroke-width="1.3"/>
<line x1="1809.40" y1="677.70" x2="1848.20" y2="677.70" stroke="#5d9fdc" stroke-width="1.8"/>
<text x="1862.50" y="684.05" font-size="18.5" text-anchor="start" >AMN - QP</text>
<line x1="1809.40" y1="703.95" x2="1848.20" y2="703.95" stroke="#ec7063" stroke-width="1.8"/>
<text x="1862.50" y="710.30" font-size="18.5" text-anchor="start" >AMN - LP</text>
<line x1="1809.40" y1="730.20" x2="1848.20" y2="730.20" stroke="#8b4799" stroke-width="1.8"/>
<text x="1862.50" y="736.55" font-size="18.5" text-anchor="start" >AMN - Wt</text>
<line x1="1809.40" y1="756.45" x2="1848.20" y2="756.45" stroke="#808080" stroke-width="1.8"/>
<text x="1862.50" y="762.80" font-size="18.5" text-anchor="start" >ANN</text>
<text x="47.00" y="41.00" font-size="46.3" text-anchor="start" stroke="none">a</text>
<text x="708.80" y="41.00" font-size="46.3" text-anchor="start" stroke="none">b</text>
<text x="1353.20" y="41.00" font-size="46.3" text-anchor="start" stroke="none">c</text>
</svg></body></html>
